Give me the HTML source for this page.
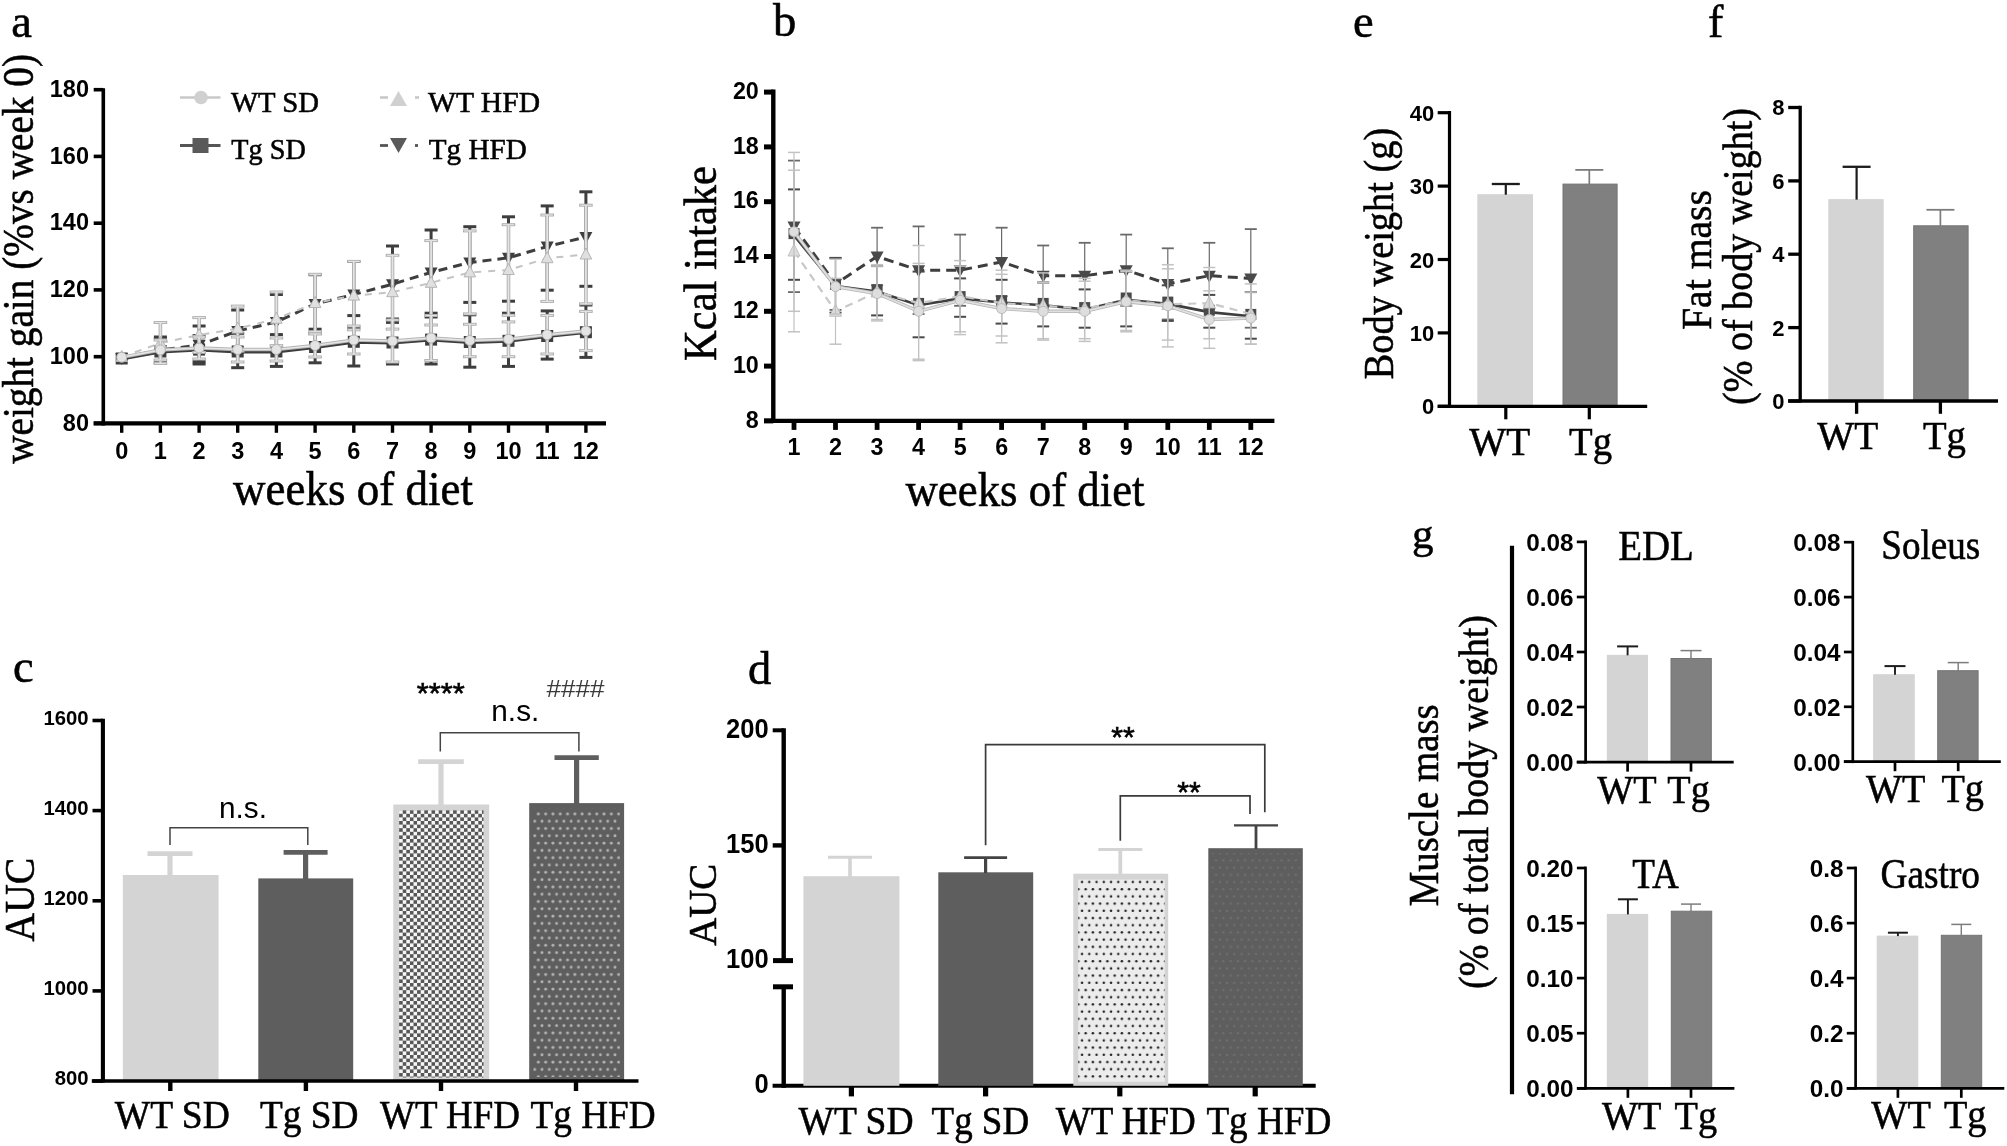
<!DOCTYPE html>
<html lang="en"><head><meta charset="utf-8"><title>Figure</title>
<style>html,body{margin:0;padding:0;background:#fff;overflow:hidden}svg{display:block;filter:blur(0.4px)}.se{font-family:"Liberation Serif",serif;stroke:#000;stroke-width:.55px}.sa{font-family:"Liberation Sans",sans-serif}</style>
</head><body>
<svg width="2007" height="1146" viewBox="0 0 2007 1146">
<rect width="2007" height="1146" fill="#fff"/>
<defs>
<pattern id="chk" x="399.1" y="810.2" width="7.2" height="7.2" patternUnits="userSpaceOnUse"><rect width="7.2" height="7.2" fill="#f6f6f6"/><rect x="3.6" width="3.6" height="3.6" fill="#575757"/><rect y="3.6" width="3.6" height="3.6" fill="#575757"/></pattern>
<pattern id="dotl" width="7.3" height="14.6" patternUnits="userSpaceOnUse"><rect width="7.3" height="14.6" fill="#5e5e5e"/><circle cx="1.8" cy="3.6" r="1.45" fill="#b4b4b4"/><circle cx="5.45" cy="10.9" r="1.45" fill="#b4b4b4"/></pattern>
<pattern id="dotk" width="7.25" height="14.4" patternUnits="userSpaceOnUse"><rect width="7.25" height="14.4" fill="#ececec"/><circle cx="1.8" cy="3.6" r="1.25" fill="#222"/><circle cx="5.4" cy="10.8" r="1.25" fill="#222"/></pattern>
<pattern id="dotd" width="7.25" height="14.4" patternUnits="userSpaceOnUse"><rect width="7.25" height="14.4" fill="#5e5e5e"/><circle cx="1.8" cy="3.6" r="1.2" fill="#6e6e6e"/><circle cx="5.4" cy="10.8" r="1.2" fill="#6e6e6e"/></pattern>
</defs>
<g id="panel-a">
<line x1="160.4" y1="337.0" x2="160.4" y2="363.0" stroke="#3e3e3e" stroke-width="3"/>
<line x1="153.9" y1="337.0" x2="166.9" y2="337.0" stroke="#3e3e3e" stroke-width="3"/>
<line x1="153.9" y1="363.0" x2="166.9" y2="363.0" stroke="#3e3e3e" stroke-width="3"/>
<line x1="199.1" y1="326.0" x2="199.1" y2="364.0" stroke="#3e3e3e" stroke-width="3"/>
<line x1="192.6" y1="326.0" x2="205.6" y2="326.0" stroke="#3e3e3e" stroke-width="3"/>
<line x1="192.6" y1="364.0" x2="205.6" y2="364.0" stroke="#3e3e3e" stroke-width="3"/>
<line x1="237.7" y1="310.0" x2="237.7" y2="352.0" stroke="#3e3e3e" stroke-width="3"/>
<line x1="231.2" y1="310.0" x2="244.2" y2="310.0" stroke="#3e3e3e" stroke-width="3"/>
<line x1="231.2" y1="352.0" x2="244.2" y2="352.0" stroke="#3e3e3e" stroke-width="3"/>
<line x1="276.4" y1="294.5" x2="276.4" y2="349.5" stroke="#3e3e3e" stroke-width="3"/>
<line x1="269.9" y1="294.5" x2="282.9" y2="294.5" stroke="#3e3e3e" stroke-width="3"/>
<line x1="269.9" y1="349.5" x2="282.9" y2="349.5" stroke="#3e3e3e" stroke-width="3"/>
<line x1="315.1" y1="274.7" x2="315.1" y2="333.3" stroke="#3e3e3e" stroke-width="3"/>
<line x1="308.6" y1="274.7" x2="321.6" y2="274.7" stroke="#3e3e3e" stroke-width="3"/>
<line x1="308.6" y1="333.3" x2="321.6" y2="333.3" stroke="#3e3e3e" stroke-width="3"/>
<line x1="353.8" y1="261.5" x2="353.8" y2="327.5" stroke="#3e3e3e" stroke-width="3"/>
<line x1="347.3" y1="261.5" x2="360.3" y2="261.5" stroke="#3e3e3e" stroke-width="3"/>
<line x1="347.3" y1="327.5" x2="360.3" y2="327.5" stroke="#3e3e3e" stroke-width="3"/>
<line x1="392.5" y1="246.0" x2="392.5" y2="322.4" stroke="#3e3e3e" stroke-width="3"/>
<line x1="386.0" y1="246.0" x2="399.0" y2="246.0" stroke="#3e3e3e" stroke-width="3"/>
<line x1="386.0" y1="322.4" x2="399.0" y2="322.4" stroke="#3e3e3e" stroke-width="3"/>
<line x1="431.1" y1="230.0" x2="431.1" y2="317.0" stroke="#3e3e3e" stroke-width="3"/>
<line x1="424.6" y1="230.0" x2="437.6" y2="230.0" stroke="#3e3e3e" stroke-width="3"/>
<line x1="424.6" y1="317.0" x2="437.6" y2="317.0" stroke="#3e3e3e" stroke-width="3"/>
<line x1="469.8" y1="226.7" x2="469.8" y2="302.4" stroke="#3e3e3e" stroke-width="3"/>
<line x1="463.3" y1="226.7" x2="476.3" y2="226.7" stroke="#3e3e3e" stroke-width="3"/>
<line x1="463.3" y1="302.4" x2="476.3" y2="302.4" stroke="#3e3e3e" stroke-width="3"/>
<line x1="508.5" y1="216.8" x2="508.5" y2="301.2" stroke="#3e3e3e" stroke-width="3"/>
<line x1="502.0" y1="216.8" x2="515.0" y2="216.8" stroke="#3e3e3e" stroke-width="3"/>
<line x1="502.0" y1="301.2" x2="515.0" y2="301.2" stroke="#3e3e3e" stroke-width="3"/>
<line x1="547.2" y1="205.9" x2="547.2" y2="290.2" stroke="#3e3e3e" stroke-width="3"/>
<line x1="540.7" y1="205.9" x2="553.7" y2="205.9" stroke="#3e3e3e" stroke-width="3"/>
<line x1="540.7" y1="290.2" x2="553.7" y2="290.2" stroke="#3e3e3e" stroke-width="3"/>
<line x1="585.9" y1="191.8" x2="585.9" y2="286.3" stroke="#3e3e3e" stroke-width="3"/>
<line x1="579.4" y1="191.8" x2="592.4" y2="191.8" stroke="#3e3e3e" stroke-width="3"/>
<line x1="579.4" y1="286.3" x2="592.4" y2="286.3" stroke="#3e3e3e" stroke-width="3"/>
<polyline points="121.7,358.0 160.4,350.0 199.1,345.0 237.7,331.0 276.4,322.0 315.1,304.0 353.8,294.5 392.5,284.2 431.1,272.4 469.8,262.5 508.5,257.8 547.2,246.5 585.9,237.0" fill="none" stroke="#3e3e3e" stroke-width="3" stroke-dasharray="9 6"/>
<polygon points="115.2,353.0 128.2,353.0 121.7,365.0" fill="#3e3e3e"/>
<polygon points="153.9,345.0 166.9,345.0 160.4,357.0" fill="#3e3e3e"/>
<polygon points="192.6,340.0 205.6,340.0 199.1,352.0" fill="#3e3e3e"/>
<polygon points="231.2,326.0 244.2,326.0 237.7,338.0" fill="#3e3e3e"/>
<polygon points="269.9,317.0 282.9,317.0 276.4,329.0" fill="#3e3e3e"/>
<polygon points="308.6,299.0 321.6,299.0 315.1,311.0" fill="#3e3e3e"/>
<polygon points="347.3,289.5 360.3,289.5 353.8,301.5" fill="#3e3e3e"/>
<polygon points="386.0,279.2 399.0,279.2 392.5,291.2" fill="#3e3e3e"/>
<polygon points="424.6,267.4 437.6,267.4 431.1,279.4" fill="#3e3e3e"/>
<polygon points="463.3,257.5 476.3,257.5 469.8,269.5" fill="#3e3e3e"/>
<polygon points="502.0,252.8 515.0,252.8 508.5,264.8" fill="#3e3e3e"/>
<polygon points="540.7,241.5 553.7,241.5 547.2,253.5" fill="#3e3e3e"/>
<polygon points="579.4,232.0 592.4,232.0 585.9,244.0" fill="#3e3e3e"/>
<line x1="160.4" y1="338.2" x2="160.4" y2="362.8" stroke="#3e3e3e" stroke-width="3"/>
<line x1="153.9" y1="338.2" x2="166.9" y2="338.2" stroke="#3e3e3e" stroke-width="3"/>
<line x1="153.9" y1="362.8" x2="166.9" y2="362.8" stroke="#3e3e3e" stroke-width="3"/>
<line x1="199.1" y1="335.6" x2="199.1" y2="361.6" stroke="#3e3e3e" stroke-width="3"/>
<line x1="192.6" y1="335.6" x2="205.6" y2="335.6" stroke="#3e3e3e" stroke-width="3"/>
<line x1="192.6" y1="361.6" x2="205.6" y2="361.6" stroke="#3e3e3e" stroke-width="3"/>
<line x1="237.7" y1="333.3" x2="237.7" y2="367.7" stroke="#3e3e3e" stroke-width="3"/>
<line x1="231.2" y1="333.3" x2="244.2" y2="333.3" stroke="#3e3e3e" stroke-width="3"/>
<line x1="231.2" y1="367.7" x2="244.2" y2="367.7" stroke="#3e3e3e" stroke-width="3"/>
<line x1="276.4" y1="334.6" x2="276.4" y2="366.4" stroke="#3e3e3e" stroke-width="3"/>
<line x1="269.9" y1="334.6" x2="282.9" y2="334.6" stroke="#3e3e3e" stroke-width="3"/>
<line x1="269.9" y1="366.4" x2="282.9" y2="366.4" stroke="#3e3e3e" stroke-width="3"/>
<line x1="315.1" y1="329.2" x2="315.1" y2="362.8" stroke="#3e3e3e" stroke-width="3"/>
<line x1="308.6" y1="329.2" x2="321.6" y2="329.2" stroke="#3e3e3e" stroke-width="3"/>
<line x1="308.6" y1="362.8" x2="321.6" y2="362.8" stroke="#3e3e3e" stroke-width="3"/>
<line x1="353.8" y1="315.6" x2="353.8" y2="366.0" stroke="#3e3e3e" stroke-width="3"/>
<line x1="347.3" y1="315.6" x2="360.3" y2="315.6" stroke="#3e3e3e" stroke-width="3"/>
<line x1="347.3" y1="366.0" x2="360.3" y2="366.0" stroke="#3e3e3e" stroke-width="3"/>
<line x1="392.5" y1="319.0" x2="392.5" y2="364.0" stroke="#3e3e3e" stroke-width="3"/>
<line x1="386.0" y1="319.0" x2="399.0" y2="319.0" stroke="#3e3e3e" stroke-width="3"/>
<line x1="386.0" y1="364.0" x2="399.0" y2="364.0" stroke="#3e3e3e" stroke-width="3"/>
<line x1="431.1" y1="313.2" x2="431.1" y2="364.0" stroke="#3e3e3e" stroke-width="3"/>
<line x1="424.6" y1="313.2" x2="437.6" y2="313.2" stroke="#3e3e3e" stroke-width="3"/>
<line x1="424.6" y1="364.0" x2="437.6" y2="364.0" stroke="#3e3e3e" stroke-width="3"/>
<line x1="469.8" y1="314.8" x2="469.8" y2="367.2" stroke="#3e3e3e" stroke-width="3"/>
<line x1="463.3" y1="314.8" x2="476.3" y2="314.8" stroke="#3e3e3e" stroke-width="3"/>
<line x1="463.3" y1="367.2" x2="476.3" y2="367.2" stroke="#3e3e3e" stroke-width="3"/>
<line x1="508.5" y1="313.2" x2="508.5" y2="366.4" stroke="#3e3e3e" stroke-width="3"/>
<line x1="502.0" y1="313.2" x2="515.0" y2="313.2" stroke="#3e3e3e" stroke-width="3"/>
<line x1="502.0" y1="366.4" x2="515.0" y2="366.4" stroke="#3e3e3e" stroke-width="3"/>
<line x1="547.2" y1="310.9" x2="547.2" y2="359.1" stroke="#3e3e3e" stroke-width="3"/>
<line x1="540.7" y1="310.9" x2="553.7" y2="310.9" stroke="#3e3e3e" stroke-width="3"/>
<line x1="540.7" y1="359.1" x2="553.7" y2="359.1" stroke="#3e3e3e" stroke-width="3"/>
<line x1="585.9" y1="305.0" x2="585.9" y2="357.4" stroke="#3e3e3e" stroke-width="3"/>
<line x1="579.4" y1="305.0" x2="592.4" y2="305.0" stroke="#3e3e3e" stroke-width="3"/>
<line x1="579.4" y1="357.4" x2="592.4" y2="357.4" stroke="#3e3e3e" stroke-width="3"/>
<polyline points="121.7,359.1 160.4,352.1 199.1,350.2 237.7,352.1 276.4,352.1 315.1,347.6 353.8,342.4 392.5,343.1 431.1,340.2 469.8,342.6 508.5,341.4 547.2,336.6 585.9,332.8" fill="none" stroke="#3e3e3e" stroke-width="2.6"/>
<rect x="115.7" y="352.5" width="12.0" height="12.0" fill="#3e3e3e"/>
<rect x="154.4" y="345.5" width="12.0" height="12.0" fill="#3e3e3e"/>
<rect x="193.1" y="343.6" width="12.0" height="12.0" fill="#3e3e3e"/>
<rect x="231.7" y="345.5" width="12.0" height="12.0" fill="#3e3e3e"/>
<rect x="270.4" y="345.5" width="12.0" height="12.0" fill="#3e3e3e"/>
<rect x="309.1" y="341.0" width="12.0" height="12.0" fill="#3e3e3e"/>
<rect x="347.8" y="335.8" width="12.0" height="12.0" fill="#3e3e3e"/>
<rect x="386.5" y="336.5" width="12.0" height="12.0" fill="#3e3e3e"/>
<rect x="425.1" y="333.6" width="12.0" height="12.0" fill="#3e3e3e"/>
<rect x="463.8" y="336.0" width="12.0" height="12.0" fill="#3e3e3e"/>
<rect x="502.5" y="334.8" width="12.0" height="12.0" fill="#3e3e3e"/>
<rect x="541.2" y="330.0" width="12.0" height="12.0" fill="#3e3e3e"/>
<rect x="579.9" y="326.2" width="12.0" height="12.0" fill="#3e3e3e"/>
<line x1="160.4" y1="322.5" x2="160.4" y2="363.5" stroke="#b0b0b0" stroke-width="3.6"/>
<line x1="153.6" y1="322.5" x2="167.2" y2="322.5" stroke="#b0b0b0" stroke-width="3.0"/>
<line x1="153.6" y1="363.5" x2="167.2" y2="363.5" stroke="#b0b0b0" stroke-width="3.0"/>
<line x1="160.4" y1="322.5" x2="160.4" y2="363.5" stroke="#e4e4e4" stroke-width="1.7"/>
<line x1="154.7" y1="322.5" x2="166.1" y2="322.5" stroke="#e4e4e4" stroke-width="1.2"/>
<line x1="154.7" y1="363.5" x2="166.1" y2="363.5" stroke="#e4e4e4" stroke-width="1.2"/>
<line x1="199.1" y1="317.6" x2="199.1" y2="352.4" stroke="#b0b0b0" stroke-width="3.6"/>
<line x1="192.3" y1="317.6" x2="205.9" y2="317.6" stroke="#b0b0b0" stroke-width="3.0"/>
<line x1="192.3" y1="352.4" x2="205.9" y2="352.4" stroke="#b0b0b0" stroke-width="3.0"/>
<line x1="199.1" y1="317.6" x2="199.1" y2="352.4" stroke="#e4e4e4" stroke-width="1.7"/>
<line x1="193.4" y1="317.6" x2="204.8" y2="317.6" stroke="#e4e4e4" stroke-width="1.2"/>
<line x1="193.4" y1="352.4" x2="204.8" y2="352.4" stroke="#e4e4e4" stroke-width="1.2"/>
<line x1="237.7" y1="306.1" x2="237.7" y2="351.1" stroke="#b0b0b0" stroke-width="3.6"/>
<line x1="230.9" y1="306.1" x2="244.5" y2="306.1" stroke="#b0b0b0" stroke-width="3.0"/>
<line x1="230.9" y1="351.1" x2="244.5" y2="351.1" stroke="#b0b0b0" stroke-width="3.0"/>
<line x1="237.7" y1="306.1" x2="237.7" y2="351.1" stroke="#e4e4e4" stroke-width="1.7"/>
<line x1="232.0" y1="306.1" x2="243.4" y2="306.1" stroke="#e4e4e4" stroke-width="1.2"/>
<line x1="232.0" y1="351.1" x2="243.4" y2="351.1" stroke="#e4e4e4" stroke-width="1.2"/>
<line x1="276.4" y1="292.0" x2="276.4" y2="345.6" stroke="#b0b0b0" stroke-width="3.6"/>
<line x1="269.6" y1="292.0" x2="283.2" y2="292.0" stroke="#b0b0b0" stroke-width="3.0"/>
<line x1="269.6" y1="345.6" x2="283.2" y2="345.6" stroke="#b0b0b0" stroke-width="3.0"/>
<line x1="276.4" y1="292.0" x2="276.4" y2="345.6" stroke="#e4e4e4" stroke-width="1.7"/>
<line x1="270.7" y1="292.0" x2="282.1" y2="292.0" stroke="#e4e4e4" stroke-width="1.2"/>
<line x1="270.7" y1="345.6" x2="282.1" y2="345.6" stroke="#e4e4e4" stroke-width="1.2"/>
<line x1="315.1" y1="274.3" x2="315.1" y2="331.7" stroke="#b0b0b0" stroke-width="3.6"/>
<line x1="308.3" y1="274.3" x2="321.9" y2="274.3" stroke="#b0b0b0" stroke-width="3.0"/>
<line x1="308.3" y1="331.7" x2="321.9" y2="331.7" stroke="#b0b0b0" stroke-width="3.0"/>
<line x1="315.1" y1="274.3" x2="315.1" y2="331.7" stroke="#e4e4e4" stroke-width="1.7"/>
<line x1="309.4" y1="274.3" x2="320.8" y2="274.3" stroke="#e4e4e4" stroke-width="1.2"/>
<line x1="309.4" y1="331.7" x2="320.8" y2="331.7" stroke="#e4e4e4" stroke-width="1.2"/>
<line x1="353.8" y1="261.4" x2="353.8" y2="329.8" stroke="#b0b0b0" stroke-width="3.6"/>
<line x1="347.0" y1="261.4" x2="360.6" y2="261.4" stroke="#b0b0b0" stroke-width="3.0"/>
<line x1="347.0" y1="329.8" x2="360.6" y2="329.8" stroke="#b0b0b0" stroke-width="3.0"/>
<line x1="353.8" y1="261.4" x2="353.8" y2="329.8" stroke="#e4e4e4" stroke-width="1.7"/>
<line x1="348.1" y1="261.4" x2="359.5" y2="261.4" stroke="#e4e4e4" stroke-width="1.2"/>
<line x1="348.1" y1="329.8" x2="359.5" y2="329.8" stroke="#e4e4e4" stroke-width="1.2"/>
<line x1="392.5" y1="255.3" x2="392.5" y2="329.1" stroke="#b0b0b0" stroke-width="3.6"/>
<line x1="385.7" y1="255.3" x2="399.3" y2="255.3" stroke="#b0b0b0" stroke-width="3.0"/>
<line x1="385.7" y1="329.1" x2="399.3" y2="329.1" stroke="#b0b0b0" stroke-width="3.0"/>
<line x1="392.5" y1="255.3" x2="392.5" y2="329.1" stroke="#e4e4e4" stroke-width="1.7"/>
<line x1="386.8" y1="255.3" x2="398.2" y2="255.3" stroke="#e4e4e4" stroke-width="1.2"/>
<line x1="386.8" y1="329.1" x2="398.2" y2="329.1" stroke="#e4e4e4" stroke-width="1.2"/>
<line x1="431.1" y1="240.6" x2="431.1" y2="325.0" stroke="#b0b0b0" stroke-width="3.6"/>
<line x1="424.3" y1="240.6" x2="437.9" y2="240.6" stroke="#b0b0b0" stroke-width="3.0"/>
<line x1="424.3" y1="325.0" x2="437.9" y2="325.0" stroke="#b0b0b0" stroke-width="3.0"/>
<line x1="431.1" y1="240.6" x2="431.1" y2="325.0" stroke="#e4e4e4" stroke-width="1.7"/>
<line x1="425.4" y1="240.6" x2="436.8" y2="240.6" stroke="#e4e4e4" stroke-width="1.2"/>
<line x1="425.4" y1="325.0" x2="436.8" y2="325.0" stroke="#e4e4e4" stroke-width="1.2"/>
<line x1="469.8" y1="230.9" x2="469.8" y2="313.9" stroke="#b0b0b0" stroke-width="3.6"/>
<line x1="463.0" y1="230.9" x2="476.6" y2="230.9" stroke="#b0b0b0" stroke-width="3.0"/>
<line x1="463.0" y1="313.9" x2="476.6" y2="313.9" stroke="#b0b0b0" stroke-width="3.0"/>
<line x1="469.8" y1="230.9" x2="469.8" y2="313.9" stroke="#e4e4e4" stroke-width="1.7"/>
<line x1="464.1" y1="230.9" x2="475.5" y2="230.9" stroke="#e4e4e4" stroke-width="1.2"/>
<line x1="464.1" y1="313.9" x2="475.5" y2="313.9" stroke="#e4e4e4" stroke-width="1.2"/>
<line x1="508.5" y1="224.7" x2="508.5" y2="315.3" stroke="#b0b0b0" stroke-width="3.6"/>
<line x1="501.7" y1="224.7" x2="515.3" y2="224.7" stroke="#b0b0b0" stroke-width="3.0"/>
<line x1="501.7" y1="315.3" x2="515.3" y2="315.3" stroke="#b0b0b0" stroke-width="3.0"/>
<line x1="508.5" y1="224.7" x2="508.5" y2="315.3" stroke="#e4e4e4" stroke-width="1.7"/>
<line x1="502.8" y1="224.7" x2="514.2" y2="224.7" stroke="#e4e4e4" stroke-width="1.2"/>
<line x1="502.8" y1="315.3" x2="514.2" y2="315.3" stroke="#e4e4e4" stroke-width="1.2"/>
<line x1="547.2" y1="215.0" x2="547.2" y2="301.4" stroke="#b0b0b0" stroke-width="3.6"/>
<line x1="540.4" y1="215.0" x2="554.0" y2="215.0" stroke="#b0b0b0" stroke-width="3.0"/>
<line x1="540.4" y1="301.4" x2="554.0" y2="301.4" stroke="#b0b0b0" stroke-width="3.0"/>
<line x1="547.2" y1="215.0" x2="547.2" y2="301.4" stroke="#e4e4e4" stroke-width="1.7"/>
<line x1="541.5" y1="215.0" x2="552.9" y2="215.0" stroke="#e4e4e4" stroke-width="1.2"/>
<line x1="541.5" y1="301.4" x2="552.9" y2="301.4" stroke="#e4e4e4" stroke-width="1.2"/>
<line x1="585.9" y1="205.2" x2="585.9" y2="303.8" stroke="#b0b0b0" stroke-width="3.6"/>
<line x1="579.1" y1="205.2" x2="592.7" y2="205.2" stroke="#b0b0b0" stroke-width="3.0"/>
<line x1="579.1" y1="303.8" x2="592.7" y2="303.8" stroke="#b0b0b0" stroke-width="3.0"/>
<line x1="585.9" y1="205.2" x2="585.9" y2="303.8" stroke="#e4e4e4" stroke-width="1.7"/>
<line x1="580.2" y1="205.2" x2="591.6" y2="205.2" stroke="#e4e4e4" stroke-width="1.2"/>
<line x1="580.2" y1="303.8" x2="591.6" y2="303.8" stroke="#e4e4e4" stroke-width="1.2"/>
<polyline points="121.7,357.0 160.4,343.0 199.1,335.0 237.7,328.6 276.4,318.8 315.1,303.0 353.8,295.6 392.5,292.2 431.1,282.8 469.8,272.4 508.5,270.0 547.2,258.2 585.9,254.5" fill="none" stroke="#c4c4c4" stroke-width="2.0" stroke-dasharray="7 7"/>
<polygon points="115.9,361.5 127.5,361.5 121.7,350.5" fill="#e0e0e0" stroke="#b4b4b4" stroke-width="1"/>
<polygon points="154.6,347.5 166.2,347.5 160.4,336.5" fill="#e0e0e0" stroke="#b4b4b4" stroke-width="1"/>
<polygon points="193.3,339.5 204.9,339.5 199.1,328.5" fill="#e0e0e0" stroke="#b4b4b4" stroke-width="1"/>
<polygon points="231.9,333.1 243.5,333.1 237.7,322.1" fill="#e0e0e0" stroke="#b4b4b4" stroke-width="1"/>
<polygon points="270.6,323.3 282.2,323.3 276.4,312.3" fill="#e0e0e0" stroke="#b4b4b4" stroke-width="1"/>
<polygon points="309.3,307.5 320.9,307.5 315.1,296.5" fill="#e0e0e0" stroke="#b4b4b4" stroke-width="1"/>
<polygon points="348.0,300.1 359.6,300.1 353.8,289.1" fill="#e0e0e0" stroke="#b4b4b4" stroke-width="1"/>
<polygon points="386.7,296.7 398.3,296.7 392.5,285.7" fill="#e0e0e0" stroke="#b4b4b4" stroke-width="1"/>
<polygon points="425.3,287.3 436.9,287.3 431.1,276.3" fill="#e0e0e0" stroke="#b4b4b4" stroke-width="1"/>
<polygon points="464.0,276.9 475.6,276.9 469.8,265.9" fill="#e0e0e0" stroke="#b4b4b4" stroke-width="1"/>
<polygon points="502.7,274.5 514.3,274.5 508.5,263.5" fill="#e0e0e0" stroke="#b4b4b4" stroke-width="1"/>
<polygon points="541.4,262.7 553.0,262.7 547.2,251.7" fill="#e0e0e0" stroke="#b4b4b4" stroke-width="1"/>
<polygon points="580.1,259.0 591.7,259.0 585.9,248.0" fill="#e0e0e0" stroke="#b4b4b4" stroke-width="1"/>
<line x1="160.4" y1="340.0" x2="160.4" y2="360.0" stroke="#b0b0b0" stroke-width="3.6"/>
<line x1="153.6" y1="340.0" x2="167.2" y2="340.0" stroke="#b0b0b0" stroke-width="3.0"/>
<line x1="153.6" y1="360.0" x2="167.2" y2="360.0" stroke="#b0b0b0" stroke-width="3.0"/>
<line x1="160.4" y1="340.0" x2="160.4" y2="360.0" stroke="#e4e4e4" stroke-width="1.7"/>
<line x1="154.7" y1="340.0" x2="166.1" y2="340.0" stroke="#e4e4e4" stroke-width="1.2"/>
<line x1="154.7" y1="360.0" x2="166.1" y2="360.0" stroke="#e4e4e4" stroke-width="1.2"/>
<line x1="199.1" y1="337.0" x2="199.1" y2="359.0" stroke="#b0b0b0" stroke-width="3.6"/>
<line x1="192.3" y1="337.0" x2="205.9" y2="337.0" stroke="#b0b0b0" stroke-width="3.0"/>
<line x1="192.3" y1="359.0" x2="205.9" y2="359.0" stroke="#b0b0b0" stroke-width="3.0"/>
<line x1="199.1" y1="337.0" x2="199.1" y2="359.0" stroke="#e4e4e4" stroke-width="1.7"/>
<line x1="193.4" y1="337.0" x2="204.8" y2="337.0" stroke="#e4e4e4" stroke-width="1.2"/>
<line x1="193.4" y1="359.0" x2="204.8" y2="359.0" stroke="#e4e4e4" stroke-width="1.2"/>
<line x1="237.7" y1="337.0" x2="237.7" y2="362.0" stroke="#b0b0b0" stroke-width="3.6"/>
<line x1="230.9" y1="337.0" x2="244.5" y2="337.0" stroke="#b0b0b0" stroke-width="3.0"/>
<line x1="230.9" y1="362.0" x2="244.5" y2="362.0" stroke="#b0b0b0" stroke-width="3.0"/>
<line x1="237.7" y1="337.0" x2="237.7" y2="362.0" stroke="#e4e4e4" stroke-width="1.7"/>
<line x1="232.0" y1="337.0" x2="243.4" y2="337.0" stroke="#e4e4e4" stroke-width="1.2"/>
<line x1="232.0" y1="362.0" x2="243.4" y2="362.0" stroke="#e4e4e4" stroke-width="1.2"/>
<line x1="276.4" y1="338.0" x2="276.4" y2="361.0" stroke="#b0b0b0" stroke-width="3.6"/>
<line x1="269.6" y1="338.0" x2="283.2" y2="338.0" stroke="#b0b0b0" stroke-width="3.0"/>
<line x1="269.6" y1="361.0" x2="283.2" y2="361.0" stroke="#b0b0b0" stroke-width="3.0"/>
<line x1="276.4" y1="338.0" x2="276.4" y2="361.0" stroke="#e4e4e4" stroke-width="1.7"/>
<line x1="270.7" y1="338.0" x2="282.1" y2="338.0" stroke="#e4e4e4" stroke-width="1.2"/>
<line x1="270.7" y1="361.0" x2="282.1" y2="361.0" stroke="#e4e4e4" stroke-width="1.2"/>
<line x1="315.1" y1="334.0" x2="315.1" y2="357.0" stroke="#b0b0b0" stroke-width="3.6"/>
<line x1="308.3" y1="334.0" x2="321.9" y2="334.0" stroke="#b0b0b0" stroke-width="3.0"/>
<line x1="308.3" y1="357.0" x2="321.9" y2="357.0" stroke="#b0b0b0" stroke-width="3.0"/>
<line x1="315.1" y1="334.0" x2="315.1" y2="357.0" stroke="#e4e4e4" stroke-width="1.7"/>
<line x1="309.4" y1="334.0" x2="320.8" y2="334.0" stroke="#e4e4e4" stroke-width="1.2"/>
<line x1="309.4" y1="357.0" x2="320.8" y2="357.0" stroke="#e4e4e4" stroke-width="1.2"/>
<line x1="353.8" y1="326.0" x2="353.8" y2="354.0" stroke="#b0b0b0" stroke-width="3.6"/>
<line x1="347.0" y1="326.0" x2="360.6" y2="326.0" stroke="#b0b0b0" stroke-width="3.0"/>
<line x1="347.0" y1="354.0" x2="360.6" y2="354.0" stroke="#b0b0b0" stroke-width="3.0"/>
<line x1="353.8" y1="326.0" x2="353.8" y2="354.0" stroke="#e4e4e4" stroke-width="1.7"/>
<line x1="348.1" y1="326.0" x2="359.5" y2="326.0" stroke="#e4e4e4" stroke-width="1.2"/>
<line x1="348.1" y1="354.0" x2="359.5" y2="354.0" stroke="#e4e4e4" stroke-width="1.2"/>
<line x1="392.5" y1="320.0" x2="392.5" y2="362.0" stroke="#b0b0b0" stroke-width="3.6"/>
<line x1="385.7" y1="320.0" x2="399.3" y2="320.0" stroke="#b0b0b0" stroke-width="3.0"/>
<line x1="385.7" y1="362.0" x2="399.3" y2="362.0" stroke="#b0b0b0" stroke-width="3.0"/>
<line x1="392.5" y1="320.0" x2="392.5" y2="362.0" stroke="#e4e4e4" stroke-width="1.7"/>
<line x1="386.8" y1="320.0" x2="398.2" y2="320.0" stroke="#e4e4e4" stroke-width="1.2"/>
<line x1="386.8" y1="362.0" x2="398.2" y2="362.0" stroke="#e4e4e4" stroke-width="1.2"/>
<line x1="431.1" y1="315.5" x2="431.1" y2="360.5" stroke="#b0b0b0" stroke-width="3.6"/>
<line x1="424.3" y1="315.5" x2="437.9" y2="315.5" stroke="#b0b0b0" stroke-width="3.0"/>
<line x1="424.3" y1="360.5" x2="437.9" y2="360.5" stroke="#b0b0b0" stroke-width="3.0"/>
<line x1="431.1" y1="315.5" x2="431.1" y2="360.5" stroke="#e4e4e4" stroke-width="1.7"/>
<line x1="425.4" y1="315.5" x2="436.8" y2="315.5" stroke="#e4e4e4" stroke-width="1.2"/>
<line x1="425.4" y1="360.5" x2="436.8" y2="360.5" stroke="#e4e4e4" stroke-width="1.2"/>
<line x1="469.8" y1="324.3" x2="469.8" y2="356.7" stroke="#b0b0b0" stroke-width="3.6"/>
<line x1="463.0" y1="324.3" x2="476.6" y2="324.3" stroke="#b0b0b0" stroke-width="3.0"/>
<line x1="463.0" y1="356.7" x2="476.6" y2="356.7" stroke="#b0b0b0" stroke-width="3.0"/>
<line x1="469.8" y1="324.3" x2="469.8" y2="356.7" stroke="#e4e4e4" stroke-width="1.7"/>
<line x1="464.1" y1="324.3" x2="475.5" y2="324.3" stroke="#e4e4e4" stroke-width="1.2"/>
<line x1="464.1" y1="356.7" x2="475.5" y2="356.7" stroke="#e4e4e4" stroke-width="1.2"/>
<line x1="508.5" y1="321.9" x2="508.5" y2="356.7" stroke="#b0b0b0" stroke-width="3.6"/>
<line x1="501.7" y1="321.9" x2="515.3" y2="321.9" stroke="#b0b0b0" stroke-width="3.0"/>
<line x1="501.7" y1="356.7" x2="515.3" y2="356.7" stroke="#b0b0b0" stroke-width="3.0"/>
<line x1="508.5" y1="321.9" x2="508.5" y2="356.7" stroke="#e4e4e4" stroke-width="1.7"/>
<line x1="502.8" y1="321.9" x2="514.2" y2="321.9" stroke="#e4e4e4" stroke-width="1.2"/>
<line x1="502.8" y1="356.7" x2="514.2" y2="356.7" stroke="#e4e4e4" stroke-width="1.2"/>
<line x1="547.2" y1="315.4" x2="547.2" y2="354.0" stroke="#b0b0b0" stroke-width="3.6"/>
<line x1="540.4" y1="315.4" x2="554.0" y2="315.4" stroke="#b0b0b0" stroke-width="3.0"/>
<line x1="540.4" y1="354.0" x2="554.0" y2="354.0" stroke="#b0b0b0" stroke-width="3.0"/>
<line x1="547.2" y1="315.4" x2="547.2" y2="354.0" stroke="#e4e4e4" stroke-width="1.7"/>
<line x1="541.5" y1="315.4" x2="552.9" y2="315.4" stroke="#e4e4e4" stroke-width="1.2"/>
<line x1="541.5" y1="354.0" x2="552.9" y2="354.0" stroke="#e4e4e4" stroke-width="1.2"/>
<line x1="585.9" y1="311.4" x2="585.9" y2="350.6" stroke="#b0b0b0" stroke-width="3.6"/>
<line x1="579.1" y1="311.4" x2="592.7" y2="311.4" stroke="#b0b0b0" stroke-width="3.0"/>
<line x1="579.1" y1="350.6" x2="592.7" y2="350.6" stroke="#b0b0b0" stroke-width="3.0"/>
<line x1="585.9" y1="311.4" x2="585.9" y2="350.6" stroke="#e4e4e4" stroke-width="1.7"/>
<line x1="580.2" y1="311.4" x2="591.6" y2="311.4" stroke="#e4e4e4" stroke-width="1.2"/>
<line x1="580.2" y1="350.6" x2="591.6" y2="350.6" stroke="#e4e4e4" stroke-width="1.2"/>
<polyline points="121.7,357.3 160.4,350.0 199.1,348.0 237.7,349.5 276.4,349.5 315.1,345.5 353.8,340.0 392.5,341.0 431.1,338.0 469.8,340.5 508.5,339.3 547.2,334.7 585.9,331.0" fill="none" stroke="#b4b4b4" stroke-width="3.4"/>
<polyline points="121.7,357.3 160.4,350.0 199.1,348.0 237.7,349.5 276.4,349.5 315.1,345.5 353.8,340.0 392.5,341.0 431.1,338.0 469.8,340.5 508.5,339.3 547.2,334.7 585.9,331.0" fill="none" stroke="#e6e6e6" stroke-width="1.6"/>
<circle cx="121.7" cy="357.3" r="5" fill="#e4e4e4" stroke="#b4b4b4" stroke-width="1"/>
<circle cx="160.4" cy="350.0" r="5" fill="#e4e4e4" stroke="#b4b4b4" stroke-width="1"/>
<circle cx="199.1" cy="348.0" r="5" fill="#e4e4e4" stroke="#b4b4b4" stroke-width="1"/>
<circle cx="237.7" cy="349.5" r="5" fill="#e4e4e4" stroke="#b4b4b4" stroke-width="1"/>
<circle cx="276.4" cy="349.5" r="5" fill="#e4e4e4" stroke="#b4b4b4" stroke-width="1"/>
<circle cx="315.1" cy="345.5" r="5" fill="#e4e4e4" stroke="#b4b4b4" stroke-width="1"/>
<circle cx="353.8" cy="340.0" r="5" fill="#e4e4e4" stroke="#b4b4b4" stroke-width="1"/>
<circle cx="392.5" cy="341.0" r="5" fill="#e4e4e4" stroke="#b4b4b4" stroke-width="1"/>
<circle cx="431.1" cy="338.0" r="5" fill="#e4e4e4" stroke="#b4b4b4" stroke-width="1"/>
<circle cx="469.8" cy="340.5" r="5" fill="#e4e4e4" stroke="#b4b4b4" stroke-width="1"/>
<circle cx="508.5" cy="339.3" r="5" fill="#e4e4e4" stroke="#b4b4b4" stroke-width="1"/>
<circle cx="547.2" cy="334.7" r="5" fill="#e4e4e4" stroke="#b4b4b4" stroke-width="1"/>
<circle cx="585.9" cy="331.0" r="5" fill="#e4e4e4" stroke="#b4b4b4" stroke-width="1"/>
<line x1="103.3" y1="88.3" x2="103.3" y2="425.5" stroke="#000" stroke-width="3.6"/>
<line x1="93.7" y1="423.4" x2="606.0" y2="423.4" stroke="#000" stroke-width="4.3"/>
<line x1="93.7" y1="423.4" x2="103.3" y2="423.4" stroke="#000" stroke-width="3.6"/>
<text class="sa" x="89" y="430.7" font-size="23.5" text-anchor="end" font-weight="bold">80</text>
<line x1="93.7" y1="356.7" x2="103.3" y2="356.7" stroke="#000" stroke-width="3.6"/>
<text class="sa" x="89" y="363.96" font-size="23.5" text-anchor="end" font-weight="bold">100</text>
<line x1="93.7" y1="289.9" x2="103.3" y2="289.9" stroke="#000" stroke-width="3.6"/>
<text class="sa" x="89" y="297.21999999999997" font-size="23.5" text-anchor="end" font-weight="bold">120</text>
<line x1="93.7" y1="223.2" x2="103.3" y2="223.2" stroke="#000" stroke-width="3.6"/>
<text class="sa" x="89" y="230.48" font-size="23.5" text-anchor="end" font-weight="bold">140</text>
<line x1="93.7" y1="156.4" x2="103.3" y2="156.4" stroke="#000" stroke-width="3.6"/>
<text class="sa" x="89" y="163.73999999999995" font-size="23.5" text-anchor="end" font-weight="bold">160</text>
<line x1="93.7" y1="89.7" x2="103.3" y2="89.7" stroke="#000" stroke-width="3.6"/>
<text class="sa" x="89" y="96.99999999999993" font-size="23.5" text-anchor="end" font-weight="bold">180</text>
<line x1="121.7" y1="423.4" x2="121.7" y2="432.8" stroke="#000" stroke-width="3.4"/>
<text class="sa" x="121.7" y="458.8" font-size="23.5" text-anchor="middle" font-weight="bold">0</text>
<line x1="160.4" y1="423.4" x2="160.4" y2="432.8" stroke="#000" stroke-width="3.4"/>
<text class="sa" x="160.38" y="458.8" font-size="23.5" text-anchor="middle" font-weight="bold">1</text>
<line x1="199.1" y1="423.4" x2="199.1" y2="432.8" stroke="#000" stroke-width="3.4"/>
<text class="sa" x="199.06" y="458.8" font-size="23.5" text-anchor="middle" font-weight="bold">2</text>
<line x1="237.7" y1="423.4" x2="237.7" y2="432.8" stroke="#000" stroke-width="3.4"/>
<text class="sa" x="237.74" y="458.8" font-size="23.5" text-anchor="middle" font-weight="bold">3</text>
<line x1="276.4" y1="423.4" x2="276.4" y2="432.8" stroke="#000" stroke-width="3.4"/>
<text class="sa" x="276.42" y="458.8" font-size="23.5" text-anchor="middle" font-weight="bold">4</text>
<line x1="315.1" y1="423.4" x2="315.1" y2="432.8" stroke="#000" stroke-width="3.4"/>
<text class="sa" x="315.1" y="458.8" font-size="23.5" text-anchor="middle" font-weight="bold">5</text>
<line x1="353.8" y1="423.4" x2="353.8" y2="432.8" stroke="#000" stroke-width="3.4"/>
<text class="sa" x="353.78" y="458.8" font-size="23.5" text-anchor="middle" font-weight="bold">6</text>
<line x1="392.5" y1="423.4" x2="392.5" y2="432.8" stroke="#000" stroke-width="3.4"/>
<text class="sa" x="392.46" y="458.8" font-size="23.5" text-anchor="middle" font-weight="bold">7</text>
<line x1="431.1" y1="423.4" x2="431.1" y2="432.8" stroke="#000" stroke-width="3.4"/>
<text class="sa" x="431.14" y="458.8" font-size="23.5" text-anchor="middle" font-weight="bold">8</text>
<line x1="469.8" y1="423.4" x2="469.8" y2="432.8" stroke="#000" stroke-width="3.4"/>
<text class="sa" x="469.82" y="458.8" font-size="23.5" text-anchor="middle" font-weight="bold">9</text>
<line x1="508.5" y1="423.4" x2="508.5" y2="432.8" stroke="#000" stroke-width="3.4"/>
<text class="sa" x="508.5" y="458.8" font-size="23.5" text-anchor="middle" font-weight="bold">10</text>
<line x1="547.2" y1="423.4" x2="547.2" y2="432.8" stroke="#000" stroke-width="3.4"/>
<text class="sa" x="547.1800000000001" y="458.8" font-size="23.5" text-anchor="middle" font-weight="bold">11</text>
<line x1="585.9" y1="423.4" x2="585.9" y2="432.8" stroke="#000" stroke-width="3.4"/>
<text class="sa" x="585.86" y="458.8" font-size="23.5" text-anchor="middle" font-weight="bold">12</text>
<text class="se" x="353" y="505" font-size="48" text-anchor="middle" textLength="240" lengthAdjust="spacingAndGlyphs">weeks of diet</text>
<text class="se" transform="translate(33.2,463.8) rotate(-90)" font-size="43.5" textLength="409.8" lengthAdjust="spacingAndGlyphs">weight gain (%vs week 0)</text>
<text class="se" x="11.3" y="37" font-size="46.5">a</text>
<line x1="180.0" y1="97.5" x2="220.5" y2="97.5" stroke="#c8c8c8" stroke-width="2.6"/>
<circle cx="201" cy="97.5" r="6.8" fill="#d0d0d0"/>
<text class="se" x="231" y="112.4" font-size="30" textLength="88" lengthAdjust="spacingAndGlyphs">WT SD</text>
<line x1="180.0" y1="145.5" x2="220.5" y2="145.5" stroke="#555" stroke-width="2.8"/>
<rect x="192.5" y="138.0" width="16.0" height="15.0" fill="#5a5a5a"/>
<text class="se" x="231.3" y="159" font-size="30" textLength="74.5" lengthAdjust="spacingAndGlyphs">Tg SD</text>
<line x1="380.0" y1="97.5" x2="388.0" y2="97.5" stroke="#c8c8c8" stroke-width="2.6"/>
<polygon points="390,106 407,106 398.5,91" fill="#d0d0d0"/>
<line x1="415.0" y1="97.5" x2="419.0" y2="97.5" stroke="#c8c8c8" stroke-width="2.6"/>
<text class="se" x="428" y="112.4" font-size="30" textLength="112" lengthAdjust="spacingAndGlyphs">WT HFD</text>
<line x1="380.0" y1="145.5" x2="388.0" y2="145.5" stroke="#555" stroke-width="2.8"/>
<polygon points="390,138 407,138 398.5,153" fill="#5a5a5a"/>
<line x1="415.0" y1="145.5" x2="418.0" y2="145.5" stroke="#555" stroke-width="2.8"/>
<text class="se" x="428.8" y="159" font-size="30" textLength="98" lengthAdjust="spacingAndGlyphs">Tg HFD</text>
</g>
<g id="panel-b">
<line x1="794.0" y1="160.6" x2="794.0" y2="292.1" stroke="#6a6a6a" stroke-width="1.2"/>
<line x1="788.0" y1="160.6" x2="800.0" y2="160.6" stroke="#6a6a6a" stroke-width="1.8"/>
<line x1="788.0" y1="292.1" x2="800.0" y2="292.1" stroke="#6a6a6a" stroke-width="1.8"/>
<line x1="835.5" y1="257.9" x2="835.5" y2="309.9" stroke="#6a6a6a" stroke-width="1.2"/>
<line x1="829.5" y1="257.9" x2="841.5" y2="257.9" stroke="#6a6a6a" stroke-width="1.8"/>
<line x1="829.5" y1="309.9" x2="841.5" y2="309.9" stroke="#6a6a6a" stroke-width="1.8"/>
<line x1="877.1" y1="227.7" x2="877.1" y2="285.3" stroke="#6a6a6a" stroke-width="1.2"/>
<line x1="871.1" y1="227.7" x2="883.1" y2="227.7" stroke="#6a6a6a" stroke-width="1.8"/>
<line x1="871.1" y1="285.3" x2="883.1" y2="285.3" stroke="#6a6a6a" stroke-width="1.8"/>
<line x1="918.6" y1="226.4" x2="918.6" y2="314.0" stroke="#6a6a6a" stroke-width="1.2"/>
<line x1="912.6" y1="226.4" x2="924.6" y2="226.4" stroke="#6a6a6a" stroke-width="1.8"/>
<line x1="912.6" y1="314.0" x2="924.6" y2="314.0" stroke="#6a6a6a" stroke-width="1.8"/>
<line x1="960.1" y1="234.6" x2="960.1" y2="305.8" stroke="#6a6a6a" stroke-width="1.2"/>
<line x1="954.1" y1="234.6" x2="966.1" y2="234.6" stroke="#6a6a6a" stroke-width="1.8"/>
<line x1="954.1" y1="305.8" x2="966.1" y2="305.8" stroke="#6a6a6a" stroke-width="1.8"/>
<line x1="1001.6" y1="227.7" x2="1001.6" y2="296.2" stroke="#6a6a6a" stroke-width="1.2"/>
<line x1="995.6" y1="227.7" x2="1007.6" y2="227.7" stroke="#6a6a6a" stroke-width="1.8"/>
<line x1="995.6" y1="296.2" x2="1007.6" y2="296.2" stroke="#6a6a6a" stroke-width="1.8"/>
<line x1="1043.2" y1="245.5" x2="1043.2" y2="305.8" stroke="#6a6a6a" stroke-width="1.2"/>
<line x1="1037.2" y1="245.5" x2="1049.2" y2="245.5" stroke="#6a6a6a" stroke-width="1.8"/>
<line x1="1037.2" y1="305.8" x2="1049.2" y2="305.8" stroke="#6a6a6a" stroke-width="1.8"/>
<line x1="1084.7" y1="242.8" x2="1084.7" y2="308.6" stroke="#6a6a6a" stroke-width="1.2"/>
<line x1="1078.7" y1="242.8" x2="1090.7" y2="242.8" stroke="#6a6a6a" stroke-width="1.8"/>
<line x1="1078.7" y1="308.6" x2="1090.7" y2="308.6" stroke="#6a6a6a" stroke-width="1.8"/>
<line x1="1126.2" y1="234.6" x2="1126.2" y2="305.8" stroke="#6a6a6a" stroke-width="1.2"/>
<line x1="1120.2" y1="234.6" x2="1132.2" y2="234.6" stroke="#6a6a6a" stroke-width="1.8"/>
<line x1="1120.2" y1="305.8" x2="1132.2" y2="305.8" stroke="#6a6a6a" stroke-width="1.8"/>
<line x1="1167.8" y1="248.3" x2="1167.8" y2="319.5" stroke="#6a6a6a" stroke-width="1.2"/>
<line x1="1161.8" y1="248.3" x2="1173.8" y2="248.3" stroke="#6a6a6a" stroke-width="1.8"/>
<line x1="1161.8" y1="319.5" x2="1173.8" y2="319.5" stroke="#6a6a6a" stroke-width="1.8"/>
<line x1="1209.3" y1="242.8" x2="1209.3" y2="308.6" stroke="#6a6a6a" stroke-width="1.2"/>
<line x1="1203.3" y1="242.8" x2="1215.3" y2="242.8" stroke="#6a6a6a" stroke-width="1.8"/>
<line x1="1203.3" y1="308.6" x2="1215.3" y2="308.6" stroke="#6a6a6a" stroke-width="1.8"/>
<line x1="1250.8" y1="229.1" x2="1250.8" y2="327.7" stroke="#6a6a6a" stroke-width="1.2"/>
<line x1="1244.8" y1="229.1" x2="1256.8" y2="229.1" stroke="#6a6a6a" stroke-width="1.8"/>
<line x1="1244.8" y1="327.7" x2="1256.8" y2="327.7" stroke="#6a6a6a" stroke-width="1.8"/>
<polyline points="794.0,226.4 835.5,283.9 877.1,256.5 918.6,270.2 960.1,270.2 1001.6,262.0 1043.2,275.7 1084.7,275.7 1126.2,270.2 1167.8,283.9 1209.3,275.7 1250.8,278.4" fill="none" stroke="#3e3e3e" stroke-width="3" stroke-dasharray="10 6"/>
<polygon points="787.5,221.4 800.5,221.4 794.0,233.4" fill="#4a4a4a"/>
<polygon points="829.0,278.9 842.0,278.9 835.5,290.9" fill="#4a4a4a"/>
<polygon points="870.6,251.5 883.6,251.5 877.1,263.5" fill="#4a4a4a"/>
<polygon points="912.1,265.2 925.1,265.2 918.6,277.2" fill="#4a4a4a"/>
<polygon points="953.6,265.2 966.6,265.2 960.1,277.2" fill="#4a4a4a"/>
<polygon points="995.1,257.0 1008.1,257.0 1001.6,269.0" fill="#4a4a4a"/>
<polygon points="1036.7,270.7 1049.7,270.7 1043.2,282.7" fill="#4a4a4a"/>
<polygon points="1078.2,270.7 1091.2,270.7 1084.7,282.7" fill="#4a4a4a"/>
<polygon points="1119.7,265.2 1132.7,265.2 1126.2,277.2" fill="#4a4a4a"/>
<polygon points="1161.3,278.9 1174.3,278.9 1167.8,290.9" fill="#4a4a4a"/>
<polygon points="1202.8,270.7 1215.8,270.7 1209.3,282.7" fill="#4a4a4a"/>
<polygon points="1244.3,273.4 1257.3,273.4 1250.8,285.4" fill="#4a4a4a"/>
<line x1="794.0" y1="189.4" x2="794.0" y2="279.8" stroke="#4a4a4a" stroke-width="1.2"/>
<line x1="788.0" y1="189.4" x2="800.0" y2="189.4" stroke="#4a4a4a" stroke-width="2.0"/>
<line x1="788.0" y1="279.8" x2="800.0" y2="279.8" stroke="#4a4a4a" stroke-width="2.0"/>
<line x1="835.5" y1="257.9" x2="835.5" y2="312.7" stroke="#4a4a4a" stroke-width="1.2"/>
<line x1="829.5" y1="257.9" x2="841.5" y2="257.9" stroke="#4a4a4a" stroke-width="2.0"/>
<line x1="829.5" y1="312.7" x2="841.5" y2="312.7" stroke="#4a4a4a" stroke-width="2.0"/>
<line x1="877.1" y1="266.1" x2="877.1" y2="315.4" stroke="#4a4a4a" stroke-width="1.2"/>
<line x1="871.1" y1="266.1" x2="883.1" y2="266.1" stroke="#4a4a4a" stroke-width="2.0"/>
<line x1="871.1" y1="315.4" x2="883.1" y2="315.4" stroke="#4a4a4a" stroke-width="2.0"/>
<line x1="918.6" y1="271.6" x2="918.6" y2="337.3" stroke="#4a4a4a" stroke-width="1.2"/>
<line x1="912.6" y1="271.6" x2="924.6" y2="271.6" stroke="#4a4a4a" stroke-width="2.0"/>
<line x1="912.6" y1="337.3" x2="924.6" y2="337.3" stroke="#4a4a4a" stroke-width="2.0"/>
<line x1="960.1" y1="278.4" x2="960.1" y2="316.8" stroke="#4a4a4a" stroke-width="1.2"/>
<line x1="954.1" y1="278.4" x2="966.1" y2="278.4" stroke="#4a4a4a" stroke-width="2.0"/>
<line x1="954.1" y1="316.8" x2="966.1" y2="316.8" stroke="#4a4a4a" stroke-width="2.0"/>
<line x1="1001.6" y1="279.8" x2="1001.6" y2="323.6" stroke="#4a4a4a" stroke-width="1.2"/>
<line x1="995.6" y1="279.8" x2="1007.6" y2="279.8" stroke="#4a4a4a" stroke-width="2.0"/>
<line x1="995.6" y1="323.6" x2="1007.6" y2="323.6" stroke="#4a4a4a" stroke-width="2.0"/>
<line x1="1043.2" y1="282.5" x2="1043.2" y2="326.4" stroke="#4a4a4a" stroke-width="1.2"/>
<line x1="1037.2" y1="282.5" x2="1049.2" y2="282.5" stroke="#4a4a4a" stroke-width="2.0"/>
<line x1="1037.2" y1="326.4" x2="1049.2" y2="326.4" stroke="#4a4a4a" stroke-width="2.0"/>
<line x1="1084.7" y1="289.4" x2="1084.7" y2="327.7" stroke="#4a4a4a" stroke-width="1.2"/>
<line x1="1078.7" y1="289.4" x2="1090.7" y2="289.4" stroke="#4a4a4a" stroke-width="2.0"/>
<line x1="1078.7" y1="327.7" x2="1090.7" y2="327.7" stroke="#4a4a4a" stroke-width="2.0"/>
<line x1="1126.2" y1="271.6" x2="1126.2" y2="326.4" stroke="#4a4a4a" stroke-width="1.2"/>
<line x1="1120.2" y1="271.6" x2="1132.2" y2="271.6" stroke="#4a4a4a" stroke-width="2.0"/>
<line x1="1120.2" y1="326.4" x2="1132.2" y2="326.4" stroke="#4a4a4a" stroke-width="2.0"/>
<line x1="1167.8" y1="285.3" x2="1167.8" y2="320.9" stroke="#4a4a4a" stroke-width="1.2"/>
<line x1="1161.8" y1="285.3" x2="1173.8" y2="285.3" stroke="#4a4a4a" stroke-width="2.0"/>
<line x1="1161.8" y1="320.9" x2="1173.8" y2="320.9" stroke="#4a4a4a" stroke-width="2.0"/>
<line x1="1209.3" y1="294.9" x2="1209.3" y2="327.7" stroke="#4a4a4a" stroke-width="1.2"/>
<line x1="1203.3" y1="294.9" x2="1215.3" y2="294.9" stroke="#4a4a4a" stroke-width="2.0"/>
<line x1="1203.3" y1="327.7" x2="1215.3" y2="327.7" stroke="#4a4a4a" stroke-width="2.0"/>
<line x1="1250.8" y1="292.1" x2="1250.8" y2="338.7" stroke="#4a4a4a" stroke-width="1.2"/>
<line x1="1244.8" y1="292.1" x2="1256.8" y2="292.1" stroke="#4a4a4a" stroke-width="2.0"/>
<line x1="1244.8" y1="338.7" x2="1256.8" y2="338.7" stroke="#4a4a4a" stroke-width="2.0"/>
<polyline points="794.0,235.4 835.5,286.1 877.1,291.6 918.6,305.2 960.1,298.4 1001.6,302.5 1043.2,305.2 1084.7,309.4 1126.2,299.8 1167.8,303.9 1209.3,312.1 1250.8,316.2" fill="none" stroke="#3e3e3e" stroke-width="2.6"/>
<rect x="788.5" y="228.1" width="11.0" height="11.0" fill="#4a4a4a"/>
<rect x="830.0" y="278.8" width="11.0" height="11.0" fill="#4a4a4a"/>
<rect x="871.6" y="284.2" width="11.0" height="11.0" fill="#4a4a4a"/>
<rect x="913.1" y="297.9" width="11.0" height="11.0" fill="#4a4a4a"/>
<rect x="954.6" y="291.1" width="11.0" height="11.0" fill="#4a4a4a"/>
<rect x="996.1" y="295.2" width="11.0" height="11.0" fill="#4a4a4a"/>
<rect x="1037.7" y="297.9" width="11.0" height="11.0" fill="#4a4a4a"/>
<rect x="1079.2" y="302.1" width="11.0" height="11.0" fill="#4a4a4a"/>
<rect x="1120.7" y="292.5" width="11.0" height="11.0" fill="#4a4a4a"/>
<rect x="1162.3" y="296.6" width="11.0" height="11.0" fill="#4a4a4a"/>
<rect x="1203.8" y="304.8" width="11.0" height="11.0" fill="#4a4a4a"/>
<rect x="1245.3" y="308.9" width="11.0" height="11.0" fill="#4a4a4a"/>
<line x1="794.0" y1="170.2" x2="794.0" y2="331.8" stroke="#c2c2c2" stroke-width="1.2"/>
<line x1="788.0" y1="170.2" x2="800.0" y2="170.2" stroke="#c2c2c2" stroke-width="1.5"/>
<line x1="788.0" y1="331.8" x2="800.0" y2="331.8" stroke="#c2c2c2" stroke-width="1.5"/>
<line x1="835.5" y1="278.4" x2="835.5" y2="344.2" stroke="#c2c2c2" stroke-width="1.2"/>
<line x1="829.5" y1="278.4" x2="841.5" y2="278.4" stroke="#c2c2c2" stroke-width="1.5"/>
<line x1="829.5" y1="344.2" x2="841.5" y2="344.2" stroke="#c2c2c2" stroke-width="1.5"/>
<line x1="877.1" y1="264.7" x2="877.1" y2="319.5" stroke="#c2c2c2" stroke-width="1.2"/>
<line x1="871.1" y1="264.7" x2="883.1" y2="264.7" stroke="#c2c2c2" stroke-width="1.5"/>
<line x1="871.1" y1="319.5" x2="883.1" y2="319.5" stroke="#c2c2c2" stroke-width="1.5"/>
<line x1="918.6" y1="245.5" x2="918.6" y2="360.6" stroke="#c2c2c2" stroke-width="1.2"/>
<line x1="912.6" y1="245.5" x2="924.6" y2="245.5" stroke="#c2c2c2" stroke-width="1.5"/>
<line x1="912.6" y1="360.6" x2="924.6" y2="360.6" stroke="#c2c2c2" stroke-width="1.5"/>
<line x1="960.1" y1="260.6" x2="960.1" y2="331.8" stroke="#c2c2c2" stroke-width="1.2"/>
<line x1="954.1" y1="260.6" x2="966.1" y2="260.6" stroke="#c2c2c2" stroke-width="1.5"/>
<line x1="954.1" y1="331.8" x2="966.1" y2="331.8" stroke="#c2c2c2" stroke-width="1.5"/>
<line x1="1001.6" y1="270.2" x2="1001.6" y2="336.0" stroke="#c2c2c2" stroke-width="1.2"/>
<line x1="995.6" y1="270.2" x2="1007.6" y2="270.2" stroke="#c2c2c2" stroke-width="1.5"/>
<line x1="995.6" y1="336.0" x2="1007.6" y2="336.0" stroke="#c2c2c2" stroke-width="1.5"/>
<line x1="1043.2" y1="272.9" x2="1043.2" y2="338.7" stroke="#c2c2c2" stroke-width="1.2"/>
<line x1="1037.2" y1="272.9" x2="1049.2" y2="272.9" stroke="#c2c2c2" stroke-width="1.5"/>
<line x1="1037.2" y1="338.7" x2="1049.2" y2="338.7" stroke="#c2c2c2" stroke-width="1.5"/>
<line x1="1084.7" y1="278.4" x2="1084.7" y2="338.7" stroke="#c2c2c2" stroke-width="1.2"/>
<line x1="1078.7" y1="278.4" x2="1090.7" y2="278.4" stroke="#c2c2c2" stroke-width="1.5"/>
<line x1="1078.7" y1="338.7" x2="1090.7" y2="338.7" stroke="#c2c2c2" stroke-width="1.5"/>
<line x1="1126.2" y1="270.2" x2="1126.2" y2="330.5" stroke="#c2c2c2" stroke-width="1.2"/>
<line x1="1120.2" y1="270.2" x2="1132.2" y2="270.2" stroke="#c2c2c2" stroke-width="1.5"/>
<line x1="1120.2" y1="330.5" x2="1132.2" y2="330.5" stroke="#c2c2c2" stroke-width="1.5"/>
<line x1="1167.8" y1="268.8" x2="1167.8" y2="340.1" stroke="#c2c2c2" stroke-width="1.2"/>
<line x1="1161.8" y1="268.8" x2="1173.8" y2="268.8" stroke="#c2c2c2" stroke-width="1.5"/>
<line x1="1161.8" y1="340.1" x2="1173.8" y2="340.1" stroke="#c2c2c2" stroke-width="1.5"/>
<line x1="1209.3" y1="267.5" x2="1209.3" y2="338.7" stroke="#c2c2c2" stroke-width="1.2"/>
<line x1="1203.3" y1="267.5" x2="1215.3" y2="267.5" stroke="#c2c2c2" stroke-width="1.5"/>
<line x1="1203.3" y1="338.7" x2="1215.3" y2="338.7" stroke="#c2c2c2" stroke-width="1.5"/>
<line x1="1250.8" y1="283.9" x2="1250.8" y2="344.2" stroke="#c2c2c2" stroke-width="1.2"/>
<line x1="1244.8" y1="283.9" x2="1256.8" y2="283.9" stroke="#c2c2c2" stroke-width="1.5"/>
<line x1="1244.8" y1="344.2" x2="1256.8" y2="344.2" stroke="#c2c2c2" stroke-width="1.5"/>
<polyline points="794.0,251.0 835.5,311.3 877.1,292.1 918.6,303.1 960.1,296.2 1001.6,303.1 1043.2,305.8 1084.7,308.6 1126.2,300.3 1167.8,304.4 1209.3,303.1 1250.8,314.0" fill="none" stroke="#c8c8c8" stroke-width="2.2" stroke-dasharray="8 6"/>
<polygon points="788.0,256.0 800.0,256.0 794.0,244.0" fill="#dcdcdc" stroke="#b8b8b8" stroke-width="0.8"/>
<polygon points="829.5,316.3 841.5,316.3 835.5,304.3" fill="#dcdcdc" stroke="#b8b8b8" stroke-width="0.8"/>
<polygon points="871.1,297.1 883.1,297.1 877.1,285.1" fill="#dcdcdc" stroke="#b8b8b8" stroke-width="0.8"/>
<polygon points="912.6,308.1 924.6,308.1 918.6,296.1" fill="#dcdcdc" stroke="#b8b8b8" stroke-width="0.8"/>
<polygon points="954.1,301.2 966.1,301.2 960.1,289.2" fill="#dcdcdc" stroke="#b8b8b8" stroke-width="0.8"/>
<polygon points="995.6,308.1 1007.6,308.1 1001.6,296.1" fill="#dcdcdc" stroke="#b8b8b8" stroke-width="0.8"/>
<polygon points="1037.2,310.8 1049.2,310.8 1043.2,298.8" fill="#dcdcdc" stroke="#b8b8b8" stroke-width="0.8"/>
<polygon points="1078.7,313.6 1090.7,313.6 1084.7,301.6" fill="#dcdcdc" stroke="#b8b8b8" stroke-width="0.8"/>
<polygon points="1120.2,305.3 1132.2,305.3 1126.2,293.3" fill="#dcdcdc" stroke="#b8b8b8" stroke-width="0.8"/>
<polygon points="1161.8,309.4 1173.8,309.4 1167.8,297.4" fill="#dcdcdc" stroke="#b8b8b8" stroke-width="0.8"/>
<polygon points="1203.3,308.1 1215.3,308.1 1209.3,296.1" fill="#dcdcdc" stroke="#b8b8b8" stroke-width="0.8"/>
<polygon points="1244.8,319.0 1256.8,319.0 1250.8,307.0" fill="#dcdcdc" stroke="#b8b8b8" stroke-width="0.8"/>
<line x1="794.0" y1="152.4" x2="794.0" y2="311.3" stroke="#c2c2c2" stroke-width="1.2"/>
<line x1="788.0" y1="152.4" x2="800.0" y2="152.4" stroke="#c2c2c2" stroke-width="1.5"/>
<line x1="788.0" y1="311.3" x2="800.0" y2="311.3" stroke="#c2c2c2" stroke-width="1.5"/>
<line x1="835.5" y1="259.2" x2="835.5" y2="314.0" stroke="#c2c2c2" stroke-width="1.2"/>
<line x1="829.5" y1="259.2" x2="841.5" y2="259.2" stroke="#c2c2c2" stroke-width="1.5"/>
<line x1="829.5" y1="314.0" x2="841.5" y2="314.0" stroke="#c2c2c2" stroke-width="1.5"/>
<line x1="877.1" y1="266.1" x2="877.1" y2="320.9" stroke="#c2c2c2" stroke-width="1.2"/>
<line x1="871.1" y1="266.1" x2="883.1" y2="266.1" stroke="#c2c2c2" stroke-width="1.5"/>
<line x1="871.1" y1="320.9" x2="883.1" y2="320.9" stroke="#c2c2c2" stroke-width="1.5"/>
<line x1="918.6" y1="263.4" x2="918.6" y2="359.2" stroke="#c2c2c2" stroke-width="1.2"/>
<line x1="912.6" y1="263.4" x2="924.6" y2="263.4" stroke="#c2c2c2" stroke-width="1.5"/>
<line x1="912.6" y1="359.2" x2="924.6" y2="359.2" stroke="#c2c2c2" stroke-width="1.5"/>
<line x1="960.1" y1="266.1" x2="960.1" y2="334.6" stroke="#c2c2c2" stroke-width="1.2"/>
<line x1="954.1" y1="266.1" x2="966.1" y2="266.1" stroke="#c2c2c2" stroke-width="1.5"/>
<line x1="954.1" y1="334.6" x2="966.1" y2="334.6" stroke="#c2c2c2" stroke-width="1.5"/>
<line x1="1001.6" y1="274.3" x2="1001.6" y2="342.8" stroke="#c2c2c2" stroke-width="1.2"/>
<line x1="995.6" y1="274.3" x2="1007.6" y2="274.3" stroke="#c2c2c2" stroke-width="1.5"/>
<line x1="995.6" y1="342.8" x2="1007.6" y2="342.8" stroke="#c2c2c2" stroke-width="1.5"/>
<line x1="1043.2" y1="282.5" x2="1043.2" y2="340.1" stroke="#c2c2c2" stroke-width="1.2"/>
<line x1="1037.2" y1="282.5" x2="1049.2" y2="282.5" stroke="#c2c2c2" stroke-width="1.5"/>
<line x1="1037.2" y1="340.1" x2="1049.2" y2="340.1" stroke="#c2c2c2" stroke-width="1.5"/>
<line x1="1084.7" y1="281.2" x2="1084.7" y2="341.4" stroke="#c2c2c2" stroke-width="1.2"/>
<line x1="1078.7" y1="281.2" x2="1090.7" y2="281.2" stroke="#c2c2c2" stroke-width="1.5"/>
<line x1="1078.7" y1="341.4" x2="1090.7" y2="341.4" stroke="#c2c2c2" stroke-width="1.5"/>
<line x1="1126.2" y1="271.6" x2="1126.2" y2="331.8" stroke="#c2c2c2" stroke-width="1.2"/>
<line x1="1120.2" y1="271.6" x2="1132.2" y2="271.6" stroke="#c2c2c2" stroke-width="1.5"/>
<line x1="1120.2" y1="331.8" x2="1132.2" y2="331.8" stroke="#c2c2c2" stroke-width="1.5"/>
<line x1="1167.8" y1="264.7" x2="1167.8" y2="346.9" stroke="#c2c2c2" stroke-width="1.2"/>
<line x1="1161.8" y1="264.7" x2="1173.8" y2="264.7" stroke="#c2c2c2" stroke-width="1.5"/>
<line x1="1161.8" y1="346.9" x2="1173.8" y2="346.9" stroke="#c2c2c2" stroke-width="1.5"/>
<line x1="1209.3" y1="290.8" x2="1209.3" y2="348.3" stroke="#c2c2c2" stroke-width="1.2"/>
<line x1="1203.3" y1="290.8" x2="1215.3" y2="290.8" stroke="#c2c2c2" stroke-width="1.5"/>
<line x1="1203.3" y1="348.3" x2="1215.3" y2="348.3" stroke="#c2c2c2" stroke-width="1.5"/>
<line x1="1250.8" y1="292.1" x2="1250.8" y2="344.2" stroke="#c2c2c2" stroke-width="1.2"/>
<line x1="1244.8" y1="292.1" x2="1256.8" y2="292.1" stroke="#c2c2c2" stroke-width="1.5"/>
<line x1="1244.8" y1="344.2" x2="1256.8" y2="344.2" stroke="#c2c2c2" stroke-width="1.5"/>
<polyline points="794.0,231.8 835.5,286.6 877.1,293.5 918.6,311.3 960.1,300.3 1001.6,308.6 1043.2,311.3 1084.7,311.3 1126.2,301.7 1167.8,305.8 1209.3,319.5 1250.8,318.1" fill="none" stroke="#b4b4b4" stroke-width="3.4"/>
<polyline points="794.0,231.8 835.5,286.6 877.1,293.5 918.6,311.3 960.1,300.3 1001.6,308.6 1043.2,311.3 1084.7,311.3 1126.2,301.7 1167.8,305.8 1209.3,319.5 1250.8,318.1" fill="none" stroke="#e0e0e0" stroke-width="1.8"/>
<circle cx="794.0" cy="231.8" r="5" fill="#dedede" stroke="#b4b4b4" stroke-width="0.9"/>
<circle cx="835.5" cy="286.6" r="5" fill="#dedede" stroke="#b4b4b4" stroke-width="0.9"/>
<circle cx="877.1" cy="293.5" r="5" fill="#dedede" stroke="#b4b4b4" stroke-width="0.9"/>
<circle cx="918.6" cy="311.3" r="5" fill="#dedede" stroke="#b4b4b4" stroke-width="0.9"/>
<circle cx="960.1" cy="300.3" r="5" fill="#dedede" stroke="#b4b4b4" stroke-width="0.9"/>
<circle cx="1001.6" cy="308.6" r="5" fill="#dedede" stroke="#b4b4b4" stroke-width="0.9"/>
<circle cx="1043.2" cy="311.3" r="5" fill="#dedede" stroke="#b4b4b4" stroke-width="0.9"/>
<circle cx="1084.7" cy="311.3" r="5" fill="#dedede" stroke="#b4b4b4" stroke-width="0.9"/>
<circle cx="1126.2" cy="301.7" r="5" fill="#dedede" stroke="#b4b4b4" stroke-width="0.9"/>
<circle cx="1167.8" cy="305.8" r="5" fill="#dedede" stroke="#b4b4b4" stroke-width="0.9"/>
<circle cx="1209.3" cy="319.5" r="5" fill="#dedede" stroke="#b4b4b4" stroke-width="0.9"/>
<circle cx="1250.8" cy="318.1" r="5" fill="#dedede" stroke="#b4b4b4" stroke-width="0.9"/>
<line x1="773.3" y1="89.6" x2="773.3" y2="423.1" stroke="#000" stroke-width="4.4"/>
<line x1="764.0" y1="420.9" x2="1274.4" y2="420.9" stroke="#000" stroke-width="4.4"/>
<line x1="764.0" y1="420.9" x2="773.3" y2="420.9" stroke="#000" stroke-width="5"/>
<text class="sa" x="758.8" y="427.5" font-size="23.3" text-anchor="end" font-weight="bold">8</text>
<line x1="764.0" y1="366.1" x2="773.3" y2="366.1" stroke="#000" stroke-width="5"/>
<text class="sa" x="758.8" y="372.7" font-size="23.3" text-anchor="end" font-weight="bold">10</text>
<line x1="764.0" y1="311.3" x2="773.3" y2="311.3" stroke="#000" stroke-width="5"/>
<text class="sa" x="758.8" y="317.9" font-size="23.3" text-anchor="end" font-weight="bold">12</text>
<line x1="764.0" y1="256.5" x2="773.3" y2="256.5" stroke="#000" stroke-width="5"/>
<text class="sa" x="758.8" y="263.1" font-size="23.3" text-anchor="end" font-weight="bold">14</text>
<line x1="764.0" y1="201.7" x2="773.3" y2="201.7" stroke="#000" stroke-width="5"/>
<text class="sa" x="758.8" y="208.29999999999998" font-size="23.3" text-anchor="end" font-weight="bold">16</text>
<line x1="764.0" y1="146.9" x2="773.3" y2="146.9" stroke="#000" stroke-width="5"/>
<text class="sa" x="758.8" y="153.49999999999997" font-size="23.3" text-anchor="end" font-weight="bold">18</text>
<line x1="764.0" y1="92.1" x2="773.3" y2="92.1" stroke="#000" stroke-width="5"/>
<text class="sa" x="758.8" y="98.70000000000002" font-size="23.3" text-anchor="end" font-weight="bold">20</text>
<line x1="794.0" y1="420.9" x2="794.0" y2="429.9" stroke="#000" stroke-width="4.8"/>
<text class="sa" x="794.0" y="455" font-size="23.3" text-anchor="middle" font-weight="bold">1</text>
<line x1="835.5" y1="420.9" x2="835.5" y2="429.9" stroke="#000" stroke-width="4.8"/>
<text class="sa" x="835.53" y="455" font-size="23.3" text-anchor="middle" font-weight="bold">2</text>
<line x1="877.1" y1="420.9" x2="877.1" y2="429.9" stroke="#000" stroke-width="4.8"/>
<text class="sa" x="877.06" y="455" font-size="23.3" text-anchor="middle" font-weight="bold">3</text>
<line x1="918.6" y1="420.9" x2="918.6" y2="429.9" stroke="#000" stroke-width="4.8"/>
<text class="sa" x="918.59" y="455" font-size="23.3" text-anchor="middle" font-weight="bold">4</text>
<line x1="960.1" y1="420.9" x2="960.1" y2="429.9" stroke="#000" stroke-width="4.8"/>
<text class="sa" x="960.12" y="455" font-size="23.3" text-anchor="middle" font-weight="bold">5</text>
<line x1="1001.6" y1="420.9" x2="1001.6" y2="429.9" stroke="#000" stroke-width="4.8"/>
<text class="sa" x="1001.65" y="455" font-size="23.3" text-anchor="middle" font-weight="bold">6</text>
<line x1="1043.2" y1="420.9" x2="1043.2" y2="429.9" stroke="#000" stroke-width="4.8"/>
<text class="sa" x="1043.18" y="455" font-size="23.3" text-anchor="middle" font-weight="bold">7</text>
<line x1="1084.7" y1="420.9" x2="1084.7" y2="429.9" stroke="#000" stroke-width="4.8"/>
<text class="sa" x="1084.71" y="455" font-size="23.3" text-anchor="middle" font-weight="bold">8</text>
<line x1="1126.2" y1="420.9" x2="1126.2" y2="429.9" stroke="#000" stroke-width="4.8"/>
<text class="sa" x="1126.24" y="455" font-size="23.3" text-anchor="middle" font-weight="bold">9</text>
<line x1="1167.8" y1="420.9" x2="1167.8" y2="429.9" stroke="#000" stroke-width="4.8"/>
<text class="sa" x="1167.77" y="455" font-size="23.3" text-anchor="middle" font-weight="bold">10</text>
<line x1="1209.3" y1="420.9" x2="1209.3" y2="429.9" stroke="#000" stroke-width="4.8"/>
<text class="sa" x="1209.3" y="455" font-size="23.3" text-anchor="middle" font-weight="bold">11</text>
<line x1="1250.8" y1="420.9" x2="1250.8" y2="429.9" stroke="#000" stroke-width="4.8"/>
<text class="sa" x="1250.83" y="455" font-size="23.3" text-anchor="middle" font-weight="bold">12</text>
<text class="se" x="1025" y="505.6" font-size="48" text-anchor="middle" textLength="239" lengthAdjust="spacingAndGlyphs">weeks of diet</text>
<text class="se" transform="translate(716.2,361) rotate(-90)" font-size="47.2" textLength="195" lengthAdjust="spacingAndGlyphs">Kcal intake</text>
<text class="se" x="772.9" y="36.4" font-size="46.5">b</text>
</g>
<g id="panel-c">
<rect x="122.8" y="875.0" width="95.8" height="206.0" fill="#d4d4d4"/>
<rect x="258.3" y="878.4" width="94.9" height="202.6" fill="#5e5e5e"/>
<rect x="393.3" y="804.5" width="95.9" height="276.5" fill="#d4d4d4"/>
<rect x="399.1" y="810.2" width="84.4" height="267.3" fill="url(#chk)"/>
<rect x="529.2" y="803.1" width="94.9" height="277.9" fill="#5e5e5e"/>
<rect x="533.0" y="808.0" width="87.0" height="269.0" fill="url(#dotl)"/>
<line x1="170.0" y1="853.7" x2="170.0" y2="876.0" stroke="#d4d4d4" stroke-width="5.2"/>
<line x1="147.5" y1="853.7" x2="192.5" y2="853.7" stroke="#d4d4d4" stroke-width="4.8"/>
<line x1="305.6" y1="852.4" x2="305.6" y2="879.0" stroke="#5e5e5e" stroke-width="5.2"/>
<line x1="283.6" y1="852.4" x2="327.6" y2="852.4" stroke="#5e5e5e" stroke-width="4.8"/>
<line x1="441.0" y1="761.6" x2="441.0" y2="805.0" stroke="#d4d4d4" stroke-width="5.2"/>
<line x1="418.2" y1="761.6" x2="463.8" y2="761.6" stroke="#d4d4d4" stroke-width="4.8"/>
<line x1="576.6" y1="757.7" x2="576.6" y2="804.0" stroke="#5e5e5e" stroke-width="5.2"/>
<line x1="554.5" y1="757.7" x2="598.8" y2="757.7" stroke="#5e5e5e" stroke-width="4.8"/>
<polyline points="170.0,845.0 170.0,827.7 307.8,827.7 307.8,845.0" fill="none" stroke="#444" stroke-width="1.5"/>
<text class="sa" x="243" y="817.8" font-size="30" text-anchor="middle" textLength="48" lengthAdjust="spacingAndGlyphs">n.s.</text>
<polyline points="440.3,751.5 440.3,732.7 578.9,732.7 578.9,751.5" fill="none" stroke="#444" stroke-width="1.5"/>
<text class="sa" x="515.3" y="720.6" font-size="30" text-anchor="middle" textLength="48" lengthAdjust="spacingAndGlyphs">n.s.</text>
<text class="sa" x="440.7" y="702.5" font-size="30" text-anchor="middle" textLength="48" lengthAdjust="spacingAndGlyphs" stroke="#000" stroke-width="0.6">****</text>
<text class="sa" x="575.6" y="696.8" font-size="24" text-anchor="middle" textLength="58" lengthAdjust="spacingAndGlyphs" fill="#3a3a3a">####</text>
<line x1="102.9" y1="718.8" x2="102.9" y2="1082.6" stroke="#000" stroke-width="4.1"/>
<line x1="91.8" y1="1081.0" x2="638.5" y2="1081.0" stroke="#000" stroke-width="3.3"/>
<line x1="92.5" y1="1081.0" x2="102.9" y2="1081.0" stroke="#000" stroke-width="3.6"/>
<text class="sa" x="88.6" y="1085.4" font-size="20.3" text-anchor="end" font-weight="bold">800</text>
<line x1="92.5" y1="990.9" x2="102.9" y2="990.9" stroke="#000" stroke-width="3.6"/>
<text class="sa" x="88.6" y="995.28" font-size="20.3" text-anchor="end" font-weight="bold">1000</text>
<line x1="92.5" y1="900.8" x2="102.9" y2="900.8" stroke="#000" stroke-width="3.6"/>
<text class="sa" x="88.6" y="905.16" font-size="20.3" text-anchor="end" font-weight="bold">1200</text>
<line x1="92.5" y1="810.6" x2="102.9" y2="810.6" stroke="#000" stroke-width="3.6"/>
<text class="sa" x="88.6" y="815.04" font-size="20.3" text-anchor="end" font-weight="bold">1400</text>
<line x1="92.5" y1="720.5" x2="102.9" y2="720.5" stroke="#000" stroke-width="3.6"/>
<text class="sa" x="88.6" y="724.92" font-size="20.3" text-anchor="end" font-weight="bold">1600</text>
<line x1="170.3" y1="1081.0" x2="170.3" y2="1091.0" stroke="#000" stroke-width="4.4"/>
<line x1="305.9" y1="1081.0" x2="305.9" y2="1091.0" stroke="#000" stroke-width="4.4"/>
<line x1="441.0" y1="1081.0" x2="441.0" y2="1091.0" stroke="#000" stroke-width="4.4"/>
<line x1="576.0" y1="1081.0" x2="576.0" y2="1091.0" stroke="#000" stroke-width="4.4"/>
<text class="se" x="114.8" y="1127.8" font-size="40" textLength="115" lengthAdjust="spacingAndGlyphs">WT SD</text>
<text class="se" x="260" y="1127.8" font-size="40" textLength="98.5" lengthAdjust="spacingAndGlyphs">Tg SD</text>
<text class="se" x="380" y="1127.8" font-size="40" textLength="140" lengthAdjust="spacingAndGlyphs">WT HFD</text>
<text class="se" x="530.6" y="1127.8" font-size="40" textLength="125" lengthAdjust="spacingAndGlyphs">Tg HFD</text>
<text class="se" transform="translate(34,899.8) rotate(-90)" font-size="43" text-anchor="middle" textLength="84" lengthAdjust="spacingAndGlyphs">AUC</text>
<text class="se" x="13" y="681.5" font-size="46.5">c</text>
</g>
<g id="panel-d">
<line x1="783.7" y1="728.2" x2="783.7" y2="960.6" stroke="#000" stroke-width="4.4"/>
<line x1="783.7" y1="986.8" x2="783.7" y2="1087.8" stroke="#000" stroke-width="4.4"/>
<line x1="772.7" y1="730.3" x2="783.7" y2="730.3" stroke="#000" stroke-width="4"/>
<line x1="772.7" y1="845.4" x2="783.7" y2="845.4" stroke="#000" stroke-width="4.4"/>
<line x1="773.0" y1="960.6" x2="793.0" y2="960.6" stroke="#000" stroke-width="5"/>
<line x1="773.0" y1="986.8" x2="793.0" y2="986.8" stroke="#000" stroke-width="5"/>
<line x1="772.6" y1="1085.8" x2="1315.7" y2="1085.8" stroke="#000" stroke-width="4"/>
<text class="sa" x="768.6" y="737.9" font-size="27.6" text-anchor="end" textLength="42.6" lengthAdjust="spacingAndGlyphs" font-weight="bold">200</text>
<text class="sa" x="768.6" y="853.0" font-size="27.6" text-anchor="end" textLength="42.6" lengthAdjust="spacingAndGlyphs" font-weight="bold">150</text>
<text class="sa" x="768.6" y="968.2" font-size="27.6" text-anchor="end" textLength="42.6" lengthAdjust="spacingAndGlyphs" font-weight="bold">100</text>
<text class="sa" x="768.6" y="1093.3999999999999" font-size="27.6" text-anchor="end" textLength="14.2" lengthAdjust="spacingAndGlyphs" font-weight="bold">0</text>
<line x1="851.4" y1="1085.8" x2="851.4" y2="1096.4" stroke="#000" stroke-width="5.2"/>
<line x1="985.6" y1="1085.8" x2="985.6" y2="1096.4" stroke="#000" stroke-width="5.2"/>
<line x1="1119.8" y1="1085.8" x2="1119.8" y2="1096.4" stroke="#000" stroke-width="5.2"/>
<line x1="1255.2" y1="1085.8" x2="1255.2" y2="1096.4" stroke="#000" stroke-width="5.2"/>
<rect x="803.4" y="876.2" width="96.0" height="209.6" fill="#d4d4d4"/>
<rect x="938.3" y="872.3" width="94.9" height="213.5" fill="#5e5e5e"/>
<rect x="1073.3" y="873.7" width="94.9" height="212.1" fill="#d4d4d4"/>
<rect x="1078.2" y="879.6" width="86.5" height="202.2" fill="url(#dotk)"/>
<rect x="1208.3" y="848.2" width="94.5" height="237.6" fill="#5e5e5e"/>
<rect x="1211.0" y="853.0" width="89.0" height="228.8" fill="url(#dotd)"/>
<line x1="850.0" y1="857.2" x2="850.0" y2="877.0" stroke="#d4d4d4" stroke-width="3.6"/>
<line x1="828.0" y1="857.2" x2="872.0" y2="857.2" stroke="#d4d4d4" stroke-width="3"/>
<line x1="985.6" y1="857.7" x2="985.6" y2="873.0" stroke="#444" stroke-width="3.2"/>
<line x1="964.1" y1="857.7" x2="1007.1" y2="857.7" stroke="#444" stroke-width="2.8"/>
<line x1="1120.3" y1="849.6" x2="1120.3" y2="875.0" stroke="#d4d4d4" stroke-width="3.8"/>
<line x1="1098.3" y1="849.6" x2="1142.3" y2="849.6" stroke="#d4d4d4" stroke-width="3"/>
<line x1="1256.0" y1="825.4" x2="1256.0" y2="849.0" stroke="#444" stroke-width="2.8"/>
<line x1="1234.0" y1="825.4" x2="1278.0" y2="825.4" stroke="#444" stroke-width="2.4"/>
<polyline points="985.6,845.3 985.6,744.6 1264.8,744.6 1264.8,812.3" fill="none" stroke="#3a3a3a" stroke-width="1.7"/>
<polyline points="1120.3,840.8 1120.3,795.9 1250.0,795.9 1250.0,814.0" fill="none" stroke="#3a3a3a" stroke-width="1.7"/>
<text class="sa" x="1122.9" y="747" font-size="30" text-anchor="middle" textLength="23.5" lengthAdjust="spacingAndGlyphs" stroke="#000" stroke-width="0.6">**</text>
<text class="sa" x="1189.1" y="802" font-size="30" text-anchor="middle" textLength="23.5" lengthAdjust="spacingAndGlyphs" stroke="#000" stroke-width="0.6">**</text>
<text class="se" x="798.5" y="1133.6" font-size="40" textLength="115" lengthAdjust="spacingAndGlyphs">WT SD</text>
<text class="se" x="931.6" y="1133.6" font-size="40" textLength="97.5" lengthAdjust="spacingAndGlyphs">Tg SD</text>
<text class="se" x="1055.8" y="1133.6" font-size="40" textLength="140" lengthAdjust="spacingAndGlyphs">WT HFD</text>
<text class="se" x="1206.4" y="1133.6" font-size="40" textLength="125" lengthAdjust="spacingAndGlyphs">Tg HFD</text>
<text class="se" transform="translate(716,904.8) rotate(-90)" font-size="41" text-anchor="middle" textLength="82" lengthAdjust="spacingAndGlyphs">AUC</text>
<text class="se" x="748" y="684" font-size="46.5">d</text>
</g>
<g id="panel-e">
<rect x="1477.3" y="194.2" width="55.7" height="212.1" fill="#d4d4d4"/>
<line x1="1505.8" y1="184.0" x2="1505.8" y2="194.7" stroke="#1c1c1c" stroke-width="2.2"/>
<line x1="1491.8" y1="184.0" x2="1519.8" y2="184.0" stroke="#1c1c1c" stroke-width="2.3"/>
<rect x="1563.0" y="184.1" width="54.1" height="222.2" fill="#808080" stroke="#747474" stroke-width="1"/>
<line x1="1589.3" y1="169.9" x2="1589.3" y2="184.1" stroke="#7c7c7c" stroke-width="1.7"/>
<line x1="1575.3" y1="169.9" x2="1603.3" y2="169.9" stroke="#7c7c7c" stroke-width="1.8"/>
<line x1="1449.5" y1="111.1" x2="1449.5" y2="407.9" stroke="#000" stroke-width="3.2"/>
<line x1="1437.7" y1="406.3" x2="1647.2" y2="406.3" stroke="#000" stroke-width="3.2"/>
<line x1="1437.7" y1="406.3" x2="1449.5" y2="406.3" stroke="#000" stroke-width="3.2"/>
<text class="sa" x="1434.2" y="414.40000000000003" font-size="22" text-anchor="end" font-weight="bold">0</text>
<line x1="1437.7" y1="332.9" x2="1449.5" y2="332.9" stroke="#000" stroke-width="3.2"/>
<text class="sa" x="1434.2" y="341.0" font-size="22" text-anchor="end" font-weight="bold">10</text>
<line x1="1437.7" y1="259.5" x2="1449.5" y2="259.5" stroke="#000" stroke-width="3.2"/>
<text class="sa" x="1434.2" y="267.6" font-size="22" text-anchor="end" font-weight="bold">20</text>
<line x1="1437.7" y1="186.1" x2="1449.5" y2="186.1" stroke="#000" stroke-width="3.2"/>
<text class="sa" x="1434.2" y="194.2" font-size="22" text-anchor="end" font-weight="bold">30</text>
<line x1="1437.7" y1="112.7" x2="1449.5" y2="112.7" stroke="#000" stroke-width="3.2"/>
<text class="sa" x="1434.2" y="120.79999999999998" font-size="22" text-anchor="end" font-weight="bold">40</text>
<line x1="1505.8" y1="406.3" x2="1505.8" y2="419.3" stroke="#000" stroke-width="3.2"/>
<line x1="1589.3" y1="406.3" x2="1589.3" y2="419.3" stroke="#000" stroke-width="3.2"/>
<text class="se" x="1469.2" y="454.7" font-size="41" textLength="61" lengthAdjust="spacingAndGlyphs">WT</text>
<text class="se" x="1569" y="454.7" font-size="41" textLength="43" lengthAdjust="spacingAndGlyphs">Tg</text>
<text class="se" transform="translate(1392.8,379.3) rotate(-90)" font-size="43" textLength="251.5" lengthAdjust="spacingAndGlyphs">Body weight (g)</text>
<text class="se" x="1352.9" y="36.8" font-size="46.5">e</text>
</g>
<g id="panel-f">
<rect x="1828.3" y="199.1" width="55.4" height="201.9" fill="#d4d4d4"/>
<line x1="1856.6" y1="166.8" x2="1856.6" y2="199.6" stroke="#1c1c1c" stroke-width="2.2"/>
<line x1="1842.6" y1="166.8" x2="1870.6" y2="166.8" stroke="#1c1c1c" stroke-width="2.3"/>
<rect x="1913.7" y="225.8" width="54.4" height="175.2" fill="#808080" stroke="#747474" stroke-width="1"/>
<line x1="1940.4" y1="209.8" x2="1940.4" y2="225.8" stroke="#7c7c7c" stroke-width="1.7"/>
<line x1="1926.4" y1="209.8" x2="1954.4" y2="209.8" stroke="#7c7c7c" stroke-width="1.8"/>
<line x1="1800.2" y1="105.8" x2="1800.2" y2="402.6" stroke="#000" stroke-width="3.3"/>
<line x1="1788.2" y1="401.0" x2="1998.0" y2="401.0" stroke="#000" stroke-width="3.3"/>
<line x1="1788.2" y1="401.0" x2="1800.2" y2="401.0" stroke="#000" stroke-width="3.3"/>
<text class="sa" x="1784.6000000000001" y="408.9" font-size="22" text-anchor="end" font-weight="bold">0</text>
<line x1="1788.2" y1="327.6" x2="1800.2" y2="327.6" stroke="#000" stroke-width="3.3"/>
<text class="sa" x="1784.6000000000001" y="335.525" font-size="22" text-anchor="end" font-weight="bold">2</text>
<line x1="1788.2" y1="254.2" x2="1800.2" y2="254.2" stroke="#000" stroke-width="3.3"/>
<text class="sa" x="1784.6000000000001" y="262.15" font-size="22" text-anchor="end" font-weight="bold">4</text>
<line x1="1788.2" y1="180.9" x2="1800.2" y2="180.9" stroke="#000" stroke-width="3.3"/>
<text class="sa" x="1784.6000000000001" y="188.775" font-size="22" text-anchor="end" font-weight="bold">6</text>
<line x1="1788.2" y1="107.5" x2="1800.2" y2="107.5" stroke="#000" stroke-width="3.3"/>
<text class="sa" x="1784.6000000000001" y="115.4" font-size="22" text-anchor="end" font-weight="bold">8</text>
<line x1="1856.6" y1="401.0" x2="1856.6" y2="413.8" stroke="#000" stroke-width="3.3"/>
<line x1="1940.4" y1="401.0" x2="1940.4" y2="413.8" stroke="#000" stroke-width="3.3"/>
<text class="se" x="1817.3" y="449.3" font-size="41" textLength="61" lengthAdjust="spacingAndGlyphs">WT</text>
<text class="se" x="1922.9" y="449.3" font-size="41" textLength="43" lengthAdjust="spacingAndGlyphs">Tg</text>
<text class="se" transform="translate(1711,330) rotate(-90)" font-size="43" textLength="140" lengthAdjust="spacingAndGlyphs">Fat mass</text>
<text class="se" transform="translate(1752,405) rotate(-90)" font-size="43" textLength="297" lengthAdjust="spacingAndGlyphs">(% of body weight)</text>
<text class="se" x="1707.9" y="37.1" font-size="46">f</text>
</g>
<g id="panel-g">
<line x1="1512.0" y1="545.8" x2="1512.0" y2="1094.3" stroke="#000" stroke-width="4.2"/>
<text class="se" x="1412" y="548.3" font-size="43">g</text>
<text class="se" transform="translate(1438,906.3) rotate(-90)" font-size="43" textLength="202" lengthAdjust="spacingAndGlyphs">Muscle mass</text>
<text class="se" transform="translate(1487.9,989) rotate(-90)" font-size="42.5" textLength="374" lengthAdjust="spacingAndGlyphs">(% of total body weight)</text>
<rect x="1606.8" y="654.8" width="41.2" height="107.3" fill="#d4d4d4"/>
<line x1="1627.6" y1="646.4" x2="1627.6" y2="655.3" stroke="#1c1c1c" stroke-width="1.9"/>
<line x1="1617.1" y1="646.4" x2="1638.1" y2="646.4" stroke="#1c1c1c" stroke-width="2.0"/>
<rect x="1671.0" y="658.5" width="40.3" height="103.6" fill="#808080" stroke="#747474" stroke-width="1"/>
<line x1="1691.0" y1="650.6" x2="1691.0" y2="658.5" stroke="#7c7c7c" stroke-width="1.4"/>
<line x1="1680.5" y1="650.6" x2="1701.5" y2="650.6" stroke="#7c7c7c" stroke-width="1.5"/>
<line x1="1585.6" y1="540.5" x2="1585.6" y2="763.5" stroke="#000" stroke-width="2.7"/>
<line x1="1576.8" y1="762.1" x2="1733.7" y2="762.1" stroke="#000" stroke-width="2.7"/>
<line x1="1576.8" y1="762.1" x2="1585.6" y2="762.1" stroke="#000" stroke-width="2.7"/>
<text class="sa" x="1573.5" y="771.0" font-size="24.3" text-anchor="end" font-weight="bold">0.00</text>
<line x1="1576.8" y1="707.0" x2="1585.6" y2="707.0" stroke="#000" stroke-width="2.7"/>
<text class="sa" x="1573.5" y="715.9499999999999" font-size="24.3" text-anchor="end" font-weight="bold">0.02</text>
<line x1="1576.8" y1="652.0" x2="1585.6" y2="652.0" stroke="#000" stroke-width="2.7"/>
<text class="sa" x="1573.5" y="660.9" font-size="24.3" text-anchor="end" font-weight="bold">0.04</text>
<line x1="1576.8" y1="597.0" x2="1585.6" y2="597.0" stroke="#000" stroke-width="2.7"/>
<text class="sa" x="1573.5" y="605.85" font-size="24.3" text-anchor="end" font-weight="bold">0.06</text>
<line x1="1576.8" y1="541.9" x2="1585.6" y2="541.9" stroke="#000" stroke-width="2.7"/>
<text class="sa" x="1573.5" y="550.8" font-size="24.3" text-anchor="end" font-weight="bold">0.08</text>
<line x1="1627.6" y1="762.1" x2="1627.6" y2="771.6" stroke="#000" stroke-width="2.7"/>
<line x1="1691.0" y1="762.1" x2="1691.0" y2="771.6" stroke="#000" stroke-width="2.7"/>
<text class="se" x="1597.2" y="802.8" font-size="40.5" textLength="59.5" lengthAdjust="spacingAndGlyphs">WT</text>
<text class="se" x="1667.3" y="802.8" font-size="40.5" textLength="42.5" lengthAdjust="spacingAndGlyphs">Tg</text>
<text class="se" x="1618.3" y="559.5" font-size="42" textLength="75.5" lengthAdjust="spacingAndGlyphs">EDL</text>
<rect x="1873.1" y="674.2" width="41.7" height="87.5" fill="#d4d4d4"/>
<line x1="1895.0" y1="666.1" x2="1895.0" y2="674.7" stroke="#1c1c1c" stroke-width="1.9"/>
<line x1="1884.5" y1="666.1" x2="1905.5" y2="666.1" stroke="#1c1c1c" stroke-width="2.0"/>
<rect x="1937.7" y="670.7" width="40.4" height="91.0" fill="#808080" stroke="#747474" stroke-width="1"/>
<line x1="1958.2" y1="662.6" x2="1958.2" y2="670.7" stroke="#7c7c7c" stroke-width="1.4"/>
<line x1="1947.7" y1="662.6" x2="1968.7" y2="662.6" stroke="#7c7c7c" stroke-width="1.5"/>
<line x1="1852.8" y1="540.9" x2="1852.8" y2="763.1" stroke="#000" stroke-width="2.7"/>
<line x1="1843.9" y1="761.7" x2="2000.8" y2="761.7" stroke="#000" stroke-width="2.7"/>
<line x1="1843.9" y1="761.7" x2="1852.8" y2="761.7" stroke="#000" stroke-width="2.7"/>
<text class="sa" x="1840.6000000000001" y="770.6" font-size="24.3" text-anchor="end" font-weight="bold">0.00</text>
<line x1="1843.9" y1="706.8" x2="1852.8" y2="706.8" stroke="#000" stroke-width="2.7"/>
<text class="sa" x="1840.6000000000001" y="715.725" font-size="24.3" text-anchor="end" font-weight="bold">0.02</text>
<line x1="1843.9" y1="652.0" x2="1852.8" y2="652.0" stroke="#000" stroke-width="2.7"/>
<text class="sa" x="1840.6000000000001" y="660.85" font-size="24.3" text-anchor="end" font-weight="bold">0.04</text>
<line x1="1843.9" y1="597.1" x2="1852.8" y2="597.1" stroke="#000" stroke-width="2.7"/>
<text class="sa" x="1840.6000000000001" y="605.975" font-size="24.3" text-anchor="end" font-weight="bold">0.06</text>
<line x1="1843.9" y1="542.2" x2="1852.8" y2="542.2" stroke="#000" stroke-width="2.7"/>
<text class="sa" x="1840.6000000000001" y="551.1" font-size="24.3" text-anchor="end" font-weight="bold">0.08</text>
<line x1="1895.0" y1="761.7" x2="1895.0" y2="771.2" stroke="#000" stroke-width="2.7"/>
<line x1="1958.2" y1="761.7" x2="1958.2" y2="771.2" stroke="#000" stroke-width="2.7"/>
<text class="se" x="1866" y="801.6" font-size="40.5" textLength="59.5" lengthAdjust="spacingAndGlyphs">WT</text>
<text class="se" x="1941.5" y="801.6" font-size="40.5" textLength="42.5" lengthAdjust="spacingAndGlyphs">Tg</text>
<text class="se" x="1881.3" y="559.3" font-size="42" textLength="99" lengthAdjust="spacingAndGlyphs">Soleus</text>
<rect x="1606.8" y="913.9" width="41.4" height="174.4" fill="#d4d4d4"/>
<line x1="1627.9" y1="899.3" x2="1627.9" y2="914.4" stroke="#1c1c1c" stroke-width="1.9"/>
<line x1="1617.9" y1="899.3" x2="1637.9" y2="899.3" stroke="#1c1c1c" stroke-width="2.0"/>
<rect x="1671.3" y="911.2" width="40.4" height="177.1" fill="#808080" stroke="#747474" stroke-width="1"/>
<line x1="1691.0" y1="904.1" x2="1691.0" y2="911.2" stroke="#7c7c7c" stroke-width="1.4"/>
<line x1="1681.0" y1="904.1" x2="1701.0" y2="904.1" stroke="#7c7c7c" stroke-width="1.5"/>
<line x1="1585.5" y1="866.6" x2="1585.5" y2="1089.6" stroke="#000" stroke-width="2.7"/>
<line x1="1576.9" y1="1088.3" x2="1734.4" y2="1088.3" stroke="#000" stroke-width="2.7"/>
<line x1="1576.9" y1="1088.3" x2="1585.5" y2="1088.3" stroke="#000" stroke-width="2.7"/>
<text class="sa" x="1573.6000000000001" y="1097.2" font-size="24.3" text-anchor="end" font-weight="bold">0.00</text>
<line x1="1576.9" y1="1033.2" x2="1585.5" y2="1033.2" stroke="#000" stroke-width="2.7"/>
<text class="sa" x="1573.6000000000001" y="1042.125" font-size="24.3" text-anchor="end" font-weight="bold">0.05</text>
<line x1="1576.9" y1="978.1" x2="1585.5" y2="978.1" stroke="#000" stroke-width="2.7"/>
<text class="sa" x="1573.6000000000001" y="987.05" font-size="24.3" text-anchor="end" font-weight="bold">0.10</text>
<line x1="1576.9" y1="923.1" x2="1585.5" y2="923.1" stroke="#000" stroke-width="2.7"/>
<text class="sa" x="1573.6000000000001" y="931.975" font-size="24.3" text-anchor="end" font-weight="bold">0.15</text>
<line x1="1576.9" y1="868.0" x2="1585.5" y2="868.0" stroke="#000" stroke-width="2.7"/>
<text class="sa" x="1573.6000000000001" y="876.9" font-size="24.3" text-anchor="end" font-weight="bold">0.20</text>
<line x1="1627.9" y1="1088.3" x2="1627.9" y2="1097.8" stroke="#000" stroke-width="2.7"/>
<line x1="1691.0" y1="1088.3" x2="1691.0" y2="1097.8" stroke="#000" stroke-width="2.7"/>
<text class="se" x="1601.9" y="1129.1" font-size="40.5" textLength="59.5" lengthAdjust="spacingAndGlyphs">WT</text>
<text class="se" x="1674.6" y="1129.1" font-size="40.5" textLength="42.5" lengthAdjust="spacingAndGlyphs">Tg</text>
<text class="se" x="1632.3" y="887.5" font-size="42" textLength="46.5" lengthAdjust="spacingAndGlyphs">TA</text>
<rect x="1876.7" y="935.6" width="41.6" height="152.7" fill="#d4d4d4"/>
<line x1="1897.9" y1="932.7" x2="1897.9" y2="936.1" stroke="#1c1c1c" stroke-width="1.9"/>
<line x1="1887.9" y1="932.7" x2="1907.9" y2="932.7" stroke="#1c1c1c" stroke-width="2.0"/>
<rect x="1941.3" y="935.3" width="40.4" height="153.0" fill="#808080" stroke="#747474" stroke-width="1"/>
<line x1="1961.3" y1="924.4" x2="1961.3" y2="935.3" stroke="#7c7c7c" stroke-width="1.4"/>
<line x1="1951.3" y1="924.4" x2="1971.3" y2="924.4" stroke="#7c7c7c" stroke-width="1.5"/>
<line x1="1855.6" y1="866.6" x2="1855.6" y2="1089.6" stroke="#000" stroke-width="2.7"/>
<line x1="1846.8" y1="1088.3" x2="2004.3" y2="1088.3" stroke="#000" stroke-width="2.7"/>
<line x1="1846.8" y1="1088.3" x2="1855.6" y2="1088.3" stroke="#000" stroke-width="2.7"/>
<text class="sa" x="1843.5" y="1097.2" font-size="24.3" text-anchor="end" font-weight="bold">0.0</text>
<line x1="1846.8" y1="1033.2" x2="1855.6" y2="1033.2" stroke="#000" stroke-width="2.7"/>
<text class="sa" x="1843.5" y="1042.125" font-size="24.3" text-anchor="end" font-weight="bold">0.2</text>
<line x1="1846.8" y1="978.1" x2="1855.6" y2="978.1" stroke="#000" stroke-width="2.7"/>
<text class="sa" x="1843.5" y="987.05" font-size="24.3" text-anchor="end" font-weight="bold">0.4</text>
<line x1="1846.8" y1="923.1" x2="1855.6" y2="923.1" stroke="#000" stroke-width="2.7"/>
<text class="sa" x="1843.5" y="931.975" font-size="24.3" text-anchor="end" font-weight="bold">0.6</text>
<line x1="1846.8" y1="868.0" x2="1855.6" y2="868.0" stroke="#000" stroke-width="2.7"/>
<text class="sa" x="1843.5" y="876.9" font-size="24.3" text-anchor="end" font-weight="bold">0.8</text>
<line x1="1897.9" y1="1088.3" x2="1897.9" y2="1097.8" stroke="#000" stroke-width="2.7"/>
<line x1="1961.3" y1="1088.3" x2="1961.3" y2="1097.8" stroke="#000" stroke-width="2.7"/>
<text class="se" x="1871.3" y="1127.5" font-size="40.5" textLength="59.5" lengthAdjust="spacingAndGlyphs">WT</text>
<text class="se" x="1943.9" y="1127.5" font-size="40.5" textLength="42.5" lengthAdjust="spacingAndGlyphs">Tg</text>
<text class="se" x="1880.5" y="887.5" font-size="42" textLength="99.5" lengthAdjust="spacingAndGlyphs">Gastro</text>
</g>
</svg></body></html>
